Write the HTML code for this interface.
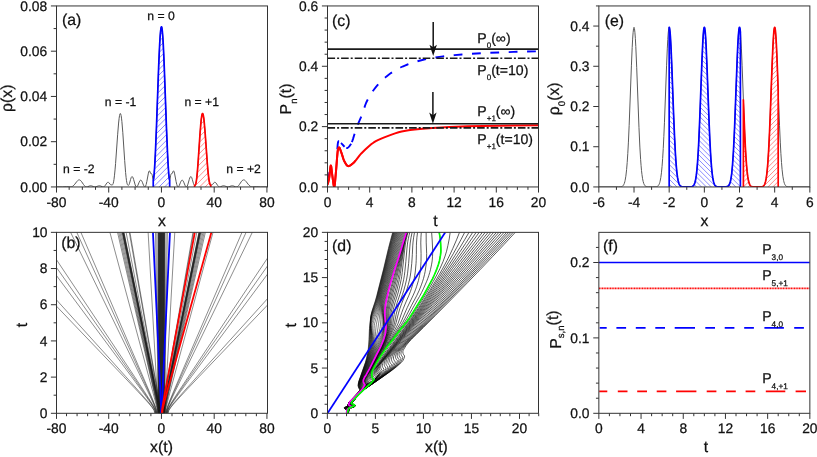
<!DOCTYPE html>
<html><head><meta charset="utf-8"><title>figure</title>
<style>html,body{margin:0;padding:0;background:#fff}svg{display:block}text{text-rendering:geometricPrecision}</style></head>
<body>
<svg width="817" height="457" viewBox="0 0 817 457" font-family='"Liberation Sans", sans-serif' fill="#111">
<style>text{stroke:#111;stroke-width:0.25px}</style>
<rect width="817" height="457" fill="#fff"/>
<g opacity="0.999">
<defs>
<clipPath id="ca"><rect x="56.5" y="5.95" width="211" height="181"/></clipPath>
<clipPath id="cb"><rect x="56.5" y="232.35" width="211" height="180.95"/></clipPath>
<clipPath id="cc"><rect x="327.5" y="5.95" width="211" height="181"/></clipPath>
<clipPath id="cd"><rect x="327.5" y="232.35" width="211" height="180.95"/></clipPath>
<clipPath id="ce"><rect x="598.85" y="5.95" width="211" height="181"/></clipPath>
<clipPath id="cf"><rect x="598.85" y="232.35" width="211" height="180.95"/></clipPath>
</defs>
<g clip-path="url(#ca)">
<path d="M55.97,186.92L62.3,186.95L66.65,186.71L70.21,186.95L71,186.89L71.66,186.73L72.32,186.46L72.85,186.14L73.9,185.23L74.83,184.15L76.8,181.54L77.6,180.67L78.39,180.09L78.78,179.93L79.18,179.87L79.57,179.92L79.97,180.07L80.76,180.66L81.68,181.77L83.53,184.54L84.45,185.72L84.98,186.24L85.51,186.62L85.9,186.81L86.43,186.94L86.83,186.95L87.35,186.85L89.59,185.92L90.12,185.79L90.65,185.74L91.18,185.78L91.7,185.9L93.81,186.74L94.74,186.94L95.26,186.94L95.92,186.83L98.3,185.92L98.82,185.79L99.35,185.74L99.88,185.79L100.41,185.92L102.65,186.86L103.17,186.95L103.57,186.92L104.1,186.7L104.63,186.25L105.28,185.41L106.87,183.02L107.39,182.47L107.92,182.22L108.32,182.25L108.71,182.5L109.11,182.92L110.16,184.32L110.69,184.72L111.22,184.88L112.14,184.95L112.4,184.89L112.67,184.68L112.93,184.23L113.2,183.51L113.59,181.83L113.99,179.43L114.51,175.2L115.04,169.88L115.57,163.62L117.68,134.2L118.6,123.02L119.13,118.25L119.52,115.67L119.92,114.07L120.18,113.57L120.32,113.5L120.45,113.55L120.71,114L121.11,115.55L121.5,118.12L121.9,121.62L122.82,132.76L124.67,160.35L125.59,172.37L126.12,177.68L126.51,180.73L126.91,182.9L127.17,183.9L127.44,184.58L127.83,185.16L128.23,185.38L128.49,185.34L128.89,184.9L129.15,184.37L129.55,183.25L130.6,179.38L131.13,177.75L131.39,177.16L131.65,176.75L131.92,176.53L132.18,176.52L132.58,176.86L133.11,177.91L133.63,179.5L135.21,184.97L135.74,186.21L136.14,186.76L136.4,186.93L136.66,186.93L136.93,186.8L137.32,186.36L137.98,185.11L139.17,182.2L139.7,181.1L140.22,180.37L140.49,180.17L140.75,180.1L141.02,180.17L141.28,180.36L141.81,181.11L142.33,182.23L143.52,185.23L144.05,186.28L144.31,186.64L144.58,186.87L144.84,186.95L145.1,186.85L145.37,186.56L145.63,186.07L146.16,184.49L146.82,181.55L148.4,173.13L148.93,171.35L149.19,170.91L149.32,170.82L149.45,170.83L149.72,171.1L150.51,173.13L150.77,173.59L151.04,173.71L151.43,173.62L151.56,173.7L152.09,174.66L152.36,175.81L152.88,179.22L153.15,180.11L153.28,180.16L153.41,179.92L153.67,178.64L154.2,173.42L154.73,165.62L155.39,153.05L156.44,127.64L158.68,65.94L159.61,45.24L160.13,36.41L160.53,31.55L160.79,29.22L161.06,27.65L161.32,26.86L161.45,26.76L161.58,26.86L161.85,27.65L162.11,29.22L162.38,31.55L162.77,36.41L163.3,45.24L164.22,65.94L166.46,127.64L167.52,153.05L168.18,165.62L168.7,173.42L169.23,178.64L169.5,179.92L169.63,180.16L169.76,180.11L170.02,179.22L170.55,175.81L170.81,174.66L171.34,173.7L171.47,173.62L171.87,173.71L172.13,173.59L172.4,173.13L173.19,171.1L173.45,170.83L173.58,170.82L173.71,170.91L173.98,171.35L174.51,173.13L176.09,181.55L176.75,184.49L177.27,186.07L177.54,186.56L177.8,186.85L178.07,186.95L178.33,186.87L178.59,186.64L178.86,186.28L179.38,185.23L180.57,182.23L181.1,181.11L181.63,180.36L181.89,180.17L182.15,180.1L182.42,180.17L182.68,180.37L183.21,181.1L183.74,182.2L184.92,185.11L185.58,186.36L185.98,186.8L186.24,186.93L186.5,186.93L186.77,186.76L187.16,186.21L187.69,184.97L189.27,179.5L189.8,177.91L190.33,176.86L190.72,176.52L190.99,176.53L191.25,176.75L191.51,177.16L191.78,177.75L192.31,179.38L193.36,183.25L193.76,184.37L194.02,184.9L194.42,185.34L194.68,185.38L195.07,185.16L195.47,184.58L195.73,183.9L196,182.9L196.39,180.73L196.79,177.68L197.32,172.37L198.24,160.35L200.08,132.76L201.01,121.62L201.4,118.12L201.8,115.55L202.19,114L202.46,113.55L202.59,113.5L202.72,113.57L202.99,114.07L203.38,115.67L203.78,118.25L204.3,123.02L205.23,134.2L207.34,163.62L207.86,169.88L208.39,175.2L208.92,179.43L209.31,181.83L209.71,183.51L209.97,184.23L210.24,184.68L210.5,184.89L210.76,184.95L211.69,184.88L212.22,184.72L212.74,184.32L213.8,182.92L214.19,182.5L214.59,182.25L214.98,182.22L215.51,182.47L216.04,183.02L217.62,185.41L218.28,186.25L218.81,186.7L219.34,186.92L219.73,186.95L220.26,186.86L222.5,185.92L223.03,185.79L223.55,185.74L224.08,185.79L224.61,185.92L226.98,186.83L227.64,186.94L228.17,186.94L229.09,186.74L231.2,185.9L231.73,185.78L232.26,185.74L232.78,185.79L233.31,185.92L235.55,186.85L236.08,186.95L236.48,186.94L237,186.81L237.4,186.62L237.93,186.24L238.45,185.72L239.38,184.54L241.22,181.77L242.15,180.66L242.94,180.07L243.33,179.92L243.73,179.87L244.12,179.93L244.52,180.09L245.31,180.67L246.1,181.54L248.08,184.15L249,185.23L250.06,186.14L250.58,186.46L251.24,186.73L251.9,186.89L252.69,186.95L256.25,186.71L260.6,186.95L266.93,186.92" fill="none" stroke="#5a5a5a" stroke-width="1"/>
<clipPath id="rg1"><path d="M153.24,186.95L153.24,180.17L153.35,180.07L153.46,179.78L153.68,178.63L154.17,173.81L154.77,164.84L155.38,153.23L156.42,128.14L158.62,67.51L159.17,54.28L159.67,44.12L160.11,36.82L160.55,31.39L160.99,28L161.21,27.11L161.43,26.77L161.54,26.8L161.65,26.98L161.87,27.73L162.3,30.85L162.74,36.03L163.24,44.12L163.73,54.28L164.28,67.51L166.48,128.14L167.53,153.23L168.13,164.84L168.74,173.81L169.23,178.63L169.45,179.78L169.56,180.07L169.67,180.17L169.67,186.95Z"/></clipPath>
<path clip-path="url(#rg1)" d="M-15.55,187.95L146.64,25.77M-9.95,187.95L152.24,25.77M-4.35,187.95L157.84,25.77M1.25,187.95L163.44,25.77M6.85,187.95L169.04,25.77M12.45,187.95L174.64,25.77M18.05,187.95L180.24,25.77M23.65,187.95L185.84,25.77M29.25,187.95L191.44,25.77M34.85,187.95L197.04,25.77M40.45,187.95L202.64,25.77M46.05,187.95L208.24,25.77M51.65,187.95L213.84,25.77M57.25,187.95L219.44,25.77M62.85,187.95L225.04,25.77M68.45,187.95L230.64,25.77M74.05,187.95L236.24,25.77M79.65,187.95L241.84,25.77M85.25,187.95L247.44,25.77M90.85,187.95L253.04,25.77M96.45,187.95L258.64,25.77M102.05,187.95L264.24,25.77M107.65,187.95L269.84,25.77M113.25,187.95L275.44,25.77M118.85,187.95L281.04,25.77M124.45,187.95L286.64,25.77M130.05,187.95L292.24,25.77M135.65,187.95L297.84,25.77M141.25,187.95L303.44,25.77M146.85,187.95L309.04,25.77M152.45,187.95L314.64,25.77M158.05,187.95L320.24,25.77M163.65,187.95L325.84,25.77M169.25,187.95L331.44,25.77M174.85,187.95L337.04,25.77" fill="none" stroke="#0000ff" stroke-width="0.6" stroke-opacity="0.78"/>
<path d="M153.24,186.95L153.24,180.17L153.35,180.07L153.46,179.78L153.68,178.63L154.17,173.81L154.77,164.84L155.38,153.23L156.42,128.14L158.62,67.51L159.17,54.28L159.67,44.12L160.11,36.82L160.55,31.39L160.99,28L161.21,27.11L161.43,26.77L161.54,26.8L161.65,26.98L161.87,27.73L162.3,30.85L162.74,36.03L163.24,44.12L163.73,54.28L164.28,67.51L166.48,128.14L167.53,153.23L168.13,164.84L168.74,173.81L169.23,178.63L169.45,179.78L169.56,180.07L169.67,180.17L169.67,186.95" fill="none" stroke="#0000ff" stroke-width="1.7" stroke-linejoin="round"/>
<clipPath id="rg2"><path d="M194.6,186.95L194.6,185.39L194.98,185.24L195.31,184.88L195.58,184.34L195.85,183.51L196.34,181.1L196.82,177.38L197.36,171.82L197.91,165.01L199.91,135.23L200.78,124.07L201.26,119.26L201.7,116.12L202.13,114.18L202.35,113.68L202.56,113.5L202.78,113.64L203,114.1L203.43,115.93L203.86,118.92L204.35,123.5L205.22,134.05L207.33,163.51L207.92,170.53L208.52,176.33L209.06,180.37L209.6,183.12L209.87,183.99L210.14,184.55L210.41,184.84L210.79,184.95L210.79,186.95Z"/></clipPath>
<path clip-path="url(#rg2)" d="M114.55,187.95L190,112.5M120.15,187.95L195.6,112.5M125.75,187.95L201.2,112.5M131.35,187.95L206.8,112.5M136.95,187.95L212.4,112.5M142.55,187.95L218,112.5M148.15,187.95L223.6,112.5M153.75,187.95L229.2,112.5M159.35,187.95L234.8,112.5M164.95,187.95L240.4,112.5M170.55,187.95L246,112.5M176.15,187.95L251.6,112.5M181.75,187.95L257.2,112.5M187.35,187.95L262.8,112.5M192.95,187.95L268.4,112.5M198.55,187.95L274,112.5M204.15,187.95L279.6,112.5M209.75,187.95L285.2,112.5M215.35,187.95L290.8,112.5" fill="none" stroke="#ff0000" stroke-width="0.6" stroke-opacity="0.78"/>
<path d="M194.6,186.95L194.6,185.39L194.98,185.24L195.31,184.88L195.58,184.34L195.85,183.51L196.34,181.1L196.82,177.38L197.36,171.82L197.91,165.01L199.91,135.23L200.78,124.07L201.26,119.26L201.7,116.12L202.13,114.18L202.35,113.68L202.56,113.5L202.78,113.64L203,114.1L203.43,115.93L203.86,118.92L204.35,123.5L205.22,134.05L207.33,163.51L207.92,170.53L208.52,176.33L209.06,180.37L209.6,183.12L209.87,183.99L210.14,184.55L210.41,184.84L210.79,184.95L210.79,186.95" fill="none" stroke="#ff0000" stroke-width="1.7" stroke-linejoin="round"/>
</g>
<text x="147.3" y="20" font-size="12.2">n = 0</text>
<text x="104.8" y="106" font-size="12.2">n = -1</text>
<text x="184.4" y="106" font-size="12.2">n = +1</text>
<text x="63" y="172.9" font-size="12.2">n = -2</text>
<text x="226.3" y="172.9" font-size="12.2">n = +2</text>
<g clip-path="url(#cc)">
<path d="M351.55,142.89L352.26,141.15L352.96,139.1L355.3,131.4L356.23,128.58L356.94,126.74L357.64,125.02L360.91,117.44L362.32,113.94L363.02,111.95L364.89,106.12L365.36,104.77L365.83,103.54L366.29,102.47L367,101.01L368.4,98.29L369.8,95.81L371.21,93.53L372.61,91.44L374.02,89.51L375.65,87.41L377.29,85.46L378.93,83.61L380.8,81.62L382.67,79.77L384.54,78.04L386.18,76.64L388.05,75.15L389.93,73.77L392.03,72.33L394.14,70.99L396.24,69.73L398.35,68.56L400.45,67.49L402.56,66.51L404.9,65.52L407.47,64.51L410.28,63.5L412.86,62.64L415.66,61.78L418.47,60.98L421.28,60.25L424.09,59.58L426.89,58.96L429.47,58.44L432.04,57.97L435.32,57.46L439.29,56.89L443.04,56.39L447.02,55.9L454.5,55.1L461.99,54.45L471.58,53.77L481.41,53.21L498.72,52.46L513.7,51.91L526.57,51.55L538.5,51.35" fill="none" stroke="#0000ff" stroke-width="1.9" stroke-dasharray="8.8 9.57" stroke-dashoffset="17.5"/>
<path d="M327.71,177.54L328.26,176.32L328.8,174.77L329.02,173.89L329.29,172.47" fill="none" stroke="#0000ff" stroke-width="1.9"/>
<path d="M337.31,149.24L337.66,144.92L337.84,143.4L337.95,142.69L338.18,141.92L338.48,141.27L338.65,141.1L338.82,141.11L339,141.16" fill="none" stroke="#0000ff" stroke-width="1.9"/>
<path d="M341,143.02L341.62,143.57L342.12,144.07L343.85,145.99L344.59,146.75" fill="none" stroke="#0000ff" stroke-width="1.9"/>
<path d="M346.28,147.92L346.78,148.03L347.12,148.02L347.28,147.98L347.79,147.76L348.29,147.39L348.79,146.9L349.46,146.11L350.8,144.29L351.13,143.74" fill="none" stroke="#0000ff" stroke-width="1.9"/>
<path d="M327.5,184.54L327.82,183.71L328.24,182.26L328.66,180.49L329.09,178.47L329.41,176.31L330.15,169.34L330.36,167.61L330.57,166.31L330.68,165.88L330.78,165.61L330.89,165.53L330.99,165.67L331.1,166.01L331.31,167.16L331.52,168.79L332.05,173.46L332.58,177.28L333.22,182.3L333.54,184.49L333.75,185.66L333.96,186.49L334.07,186.76L334.17,186.91L334.28,186.94L334.38,186.78L334.49,186.42L334.7,185.16L334.91,183.35L335.13,181.13L335.76,173.73L336.18,169.24L337.14,156.9L337.56,152.27L337.77,150.57L337.98,149.45L338.2,148.85L338.51,148.1L338.73,147.73L338.94,147.49L339.04,147.44L339.15,147.44L339.26,147.48L339.47,147.68L339.68,148.02L340,148.74L340.95,151.54L341.8,153.89L343.39,158.9L343.81,160.06L344.13,160.81L345.29,162.95L346.03,164.2L346.67,165.1L347.2,165.67L347.52,165.92L347.73,166.03L347.94,166.11L348.26,166.13L348.58,166.1L349,166L349.42,165.84L349.85,165.63L350.38,165.3L350.91,164.93L353.13,163.17L353.98,162.4L354.93,161.36" fill="none" stroke="#ff0000" stroke-width="2.0" stroke-linejoin="round" stroke-linecap="round"/>
<path d="M327.5,184.54L328.2,182.4L329.14,178.18L329.38,176.54L330.32,167.94L330.55,166.42L330.79,165.61L331.02,165.73L331.26,166.79L332.19,174.53L333.6,184.88L333.84,186.05L334.07,186.77L334.31,186.92L334.54,186.17L334.78,184.58L335.25,179.77L336.18,169.24L337.12,157.09L337.59,151.99L337.83,150.23L338.06,149.21L338.53,148.07L338.77,147.67L339,147.46L339.24,147.47L339.47,147.68L339.94,148.6L341.82,153.95L343.46,159.11L344.16,160.89L345.81,163.83L346.75,165.19L347.22,165.69L347.68,166.01L347.92,166.1L348.39,166.13L349.33,165.88L350.27,165.37L351.21,164.7L353.55,162.8L354.49,161.86L355.43,160.77L359.42,155.57L361.3,153.43L365.29,149.48L368.34,146.66L371.16,144.31L373.74,142.46L375.85,141.2L378.43,139.86L381.25,138.57L384.3,137.32L390.87,134.87L395.1,133.38L398.62,132.29L401.67,131.53L405.66,130.77L410.12,130.06L414.81,129.44L419.97,128.9L425.84,128.39L432.41,127.92L441.33,127.38L449.55,126.96L467.62,126.3L483.11,125.91L514.56,125.48L538.5,125.35" fill="none" stroke="#ff0000" stroke-width="2.0" stroke-linejoin="round"/>
<line x1="327.5" x2="538.5" y1="49.09" y2="49.09" stroke="#1a1a1a" stroke-width="1.6"/>
<line x1="327.5" x2="538.5" y1="58.2" y2="58.2" stroke="#1a1a1a" stroke-width="1.6" stroke-dasharray="7.6 2 2 2"/>
<line x1="327.5" x2="538.5" y1="123.75" y2="123.75" stroke="#1a1a1a" stroke-width="1.6"/>
<line x1="327.5" x2="538.5" y1="127.88" y2="127.88" stroke="#1a1a1a" stroke-width="1.6" stroke-dasharray="7.6 2 2 2"/>
</g>
<line x1="433.2" x2="433.2" y1="21.9" y2="49.9" stroke="#111" stroke-width="1.5"/>
<path d="M433.2,55.9 l-3.7,-11.2 l3.7,2.6 l3.7,-2.6 z" fill="#111"/>
<line x1="432.9" x2="432.9" y1="91.9" y2="117.8" stroke="#111" stroke-width="1.5"/>
<path d="M432.9,123.8 l-3.7,-11.2 l3.7,2.6 l3.7,-2.6 z" fill="#111"/>
<text x="477.3" y="42.9" font-size="14.1">P<tspan font-size="8.0" dy="5.2">0</tspan><tspan dy="-5.2">&#8203;</tspan>(&#8734;)</text>
<text x="477.3" y="74.9" font-size="14.1">P<tspan font-size="8.0" dy="5.2">0</tspan><tspan dy="-5.2">&#8203;</tspan>(t=10)</text>
<text x="477.3" y="115.6" font-size="14.1">P<tspan font-size="8.0" dy="5.2">+1</tspan><tspan dy="-5.2">&#8203;</tspan>(&#8734;)</text>
<text x="477.3" y="143.6" font-size="14.1">P<tspan font-size="8.0" dy="5.2">+1</tspan><tspan dy="-5.2">&#8203;</tspan>(t=10)</text>
<g clip-path="url(#ce)">
<path d="M598.85,186.95L618.46,186.94L620.27,186.87L621.32,186.71L622.08,186.45L622.68,186.07L623.13,185.62L623.58,184.99L624.04,184.1L624.34,183.33L624.79,181.83L625.09,180.57L625.85,176.2L626.6,169.66L627.2,162.49L627.81,153.35L628.41,142.12L629.17,125.29L631.43,65.18L632.18,47.59L632.63,39.14L633.09,32.76L633.54,28.73L633.84,27.47L633.99,27.27L634.14,27.37L634.44,28.44L634.9,32.19L635.35,38.33L635.8,46.56L636.71,67.76L638.97,127.7L639.87,147.05L640.63,159.67L641.08,165.71L641.53,170.68L641.99,174.69L642.59,178.76L643.19,181.64L643.79,183.61L644.4,184.9L644.7,185.37L645.15,185.89L645.76,186.34L646.51,186.66L647.41,186.84L648.47,186.92L652.54,186.95L655.11,186.9L656.46,186.72L657.37,186.38L657.97,185.96L658.42,185.47L658.88,184.77L659.33,183.8L659.78,182.47L660.08,181.33L660.84,177.39L661.44,172.8L662.04,166.61L662.65,158.55L663.25,148.46L663.85,136.3L664.46,122.22L666.57,65.82L667.32,48.11L667.78,39.56L668.23,33.05L668.68,28.89L668.98,27.53L669.13,27.28L669.28,27.33L669.43,27.68L669.59,28.31L670.04,31.91L670.49,37.93L670.94,46.06L671.85,67.11L673.51,111.96L674.26,130.65L675.02,146.58L675.77,159.3L676.52,168.87L676.98,173.24L677.43,176.73L677.88,179.45L678.33,181.54L678.94,183.54L679.54,184.86L680.14,185.71L680.75,186.23L681.5,186.6L682.56,186.83L684.67,186.94L689.8,186.92L691.3,186.79L692.36,186.47L692.96,186.11L693.57,185.5L694.02,184.82L694.47,183.86L694.92,182.55L695.23,181.44L695.98,177.55L696.58,173.02L697.19,166.9L697.79,158.93L698.39,148.92L699,136.84L699.6,122.84L701.71,66.46L702.46,48.64L702.92,39.99L703.37,33.35L703.82,29.06L704.12,27.6L704.27,27.3L704.43,27.3L704.58,27.6L704.73,28.18L705.18,31.65L705.63,37.53L706.08,45.55L706.99,66.46L709.25,126.5L709.86,140.05L710.46,151.62L710.91,158.93L711.51,166.9L712.12,173.02L712.72,177.55L713.47,181.44L713.93,183.04L714.38,184.22L714.83,185.07L715.44,185.84L716.04,186.31L716.64,186.59L717.85,186.85L719.81,186.94L724.79,186.93L725.84,186.87L726.75,186.73L727.35,186.55L727.8,186.33L728.56,185.71L729.16,184.86L729.76,183.54L730.22,182.12L730.67,180.21L731.12,177.71L731.57,174.49L732.33,167.19L733.08,157.02L733.84,143.64L734.59,127.1L736.85,67.11L737.76,46.06L738.21,37.93L738.66,31.91L739.11,28.31L739.27,27.68L739.42,27.33L739.57,27.28L739.72,27.53L740.02,28.89L740.47,33.05L740.92,39.56L741.38,48.11L742.13,65.82L744.24,122.22L744.85,136.3L745.45,148.46L746.05,158.55L746.66,166.61L747.26,172.8L747.86,177.39L748.62,181.33L748.92,182.47L749.37,183.8L749.82,184.77L750.28,185.47L750.73,185.96L751.33,186.38L751.78,186.59L752.39,186.75L753.74,186.91L757.82,186.95L760.68,186.89L761.74,186.77L762.64,186.5L763.25,186.14L763.85,185.56L764.3,184.9L764.6,184.32L765.21,182.72L765.81,180.33L766.26,177.87L766.71,174.69L767.17,170.68L767.62,165.71L768.07,159.67L768.83,147.05L769.73,127.7L771.99,67.76L772.9,46.56L773.35,38.33L773.8,32.19L774.26,28.44L774.56,27.37L774.71,27.27L774.86,27.47L775.16,28.73L775.61,32.76L776.07,39.14L776.52,47.59L777.27,65.18L779.53,125.29L780.29,142.12L780.89,153.35L781.5,162.49L782.1,169.66L782.85,176.2L783.61,180.57L783.91,181.83L784.36,183.33L784.66,184.1L785.12,184.99L785.57,185.62L786.02,186.07L786.62,186.45L787.38,186.71L788.43,186.87L790.24,186.94L809.85,186.95" fill="none" stroke="#5a5a5a" stroke-width="1"/>
<clipPath id="rg3"><path d="M669.18,186.95L669.18,27.27L669.29,27.33L669.39,27.54L669.59,28.34L670,31.5L670.41,36.63L670.92,45.5L671.73,64.11L673.56,113.45L674.48,135.61L675.4,153.44L675.91,161.28L676.42,167.69L676.93,172.8L677.54,177.45L678.15,180.76L678.86,183.33L679.17,184.11L679.57,184.92L679.98,185.52L680.49,186.04L681,186.39L681.61,186.64L682.33,186.8L683.14,186.89L687.83,186.95L690.68,186.87L691.49,186.75L692.11,186.58L692.62,186.34L693.12,185.97L693.63,185.41L694.14,184.58L694.55,183.66L694.96,182.44L695.67,179.35L696.28,175.45L696.89,170.08L697.51,162.93L698.12,153.76L698.73,142.46L699.85,116.57L701.89,62.02L702.8,41.99L703.21,35.43L703.62,30.69L704.03,27.95L704.23,27.36L704.33,27.27L704.43,27.31L704.53,27.49L704.74,28.24L704.94,29.52L705.25,32.39L705.66,37.9L706.16,47.18L706.98,66.22L709.12,123.29L709.83,139.58L710.44,151.37L710.95,159.56L711.56,167.48L712.18,173.52L712.79,177.97L713.5,181.54L713.91,182.98L714.42,184.3L714.93,185.22L715.44,185.84L716.05,186.32L716.76,186.63L718.08,186.87L720.22,186.94L724.91,186.92L726.03,186.85L726.85,186.71L727.76,186.35L728.17,186.07L728.58,185.68L729.19,184.81L729.8,183.44L730.31,181.76L730.82,179.45L731.33,176.33L731.74,173.14L732.55,164.49L733.37,152.35L733.98,140.76L734.69,124.68L737.34,55.12L737.85,44.25L738.36,35.7L738.87,29.96L739.17,28.03L739.38,27.39L739.48,27.28L739.58,27.29L739.68,27.45L739.89,28.15L740.09,29.38L740.4,32.18L740.4,186.95Z"/></clipPath>
<path clip-path="url(#rg3)" d="M501.6,26.27L663.28,187.95M506.5,26.27L668.18,187.95M511.4,26.27L673.08,187.95M516.3,26.27L677.98,187.95M521.2,26.27L682.88,187.95M526.1,26.27L687.78,187.95M531,26.27L692.68,187.95M535.9,26.27L697.58,187.95M540.8,26.27L702.48,187.95M545.7,26.27L707.38,187.95M550.6,26.27L712.28,187.95M555.5,26.27L717.18,187.95M560.4,26.27L722.08,187.95M565.3,26.27L726.98,187.95M570.2,26.27L731.88,187.95M575.1,26.27L736.78,187.95M580,26.27L741.68,187.95M584.9,26.27L746.58,187.95M589.8,26.27L751.48,187.95M594.7,26.27L756.38,187.95M599.6,26.27L761.28,187.95M604.5,26.27L766.18,187.95M609.4,26.27L771.08,187.95M614.3,26.27L775.98,187.95M619.2,26.27L780.88,187.95M624.1,26.27L785.78,187.95M629,26.27L790.68,187.95M633.9,26.27L795.58,187.95M638.8,26.27L800.48,187.95M643.7,26.27L805.38,187.95M648.6,26.27L810.28,187.95M653.5,26.27L815.18,187.95M658.4,26.27L820.08,187.95M663.3,26.27L824.98,187.95M668.2,26.27L829.88,187.95M673.1,26.27L834.78,187.95M678,26.27L839.68,187.95M682.9,26.27L844.58,187.95M687.8,26.27L849.48,187.95M692.7,26.27L854.38,187.95M697.6,26.27L859.28,187.95M702.5,26.27L864.18,187.95M707.4,26.27L869.08,187.95M712.3,26.27L873.98,187.95M717.2,26.27L878.88,187.95M722.1,26.27L883.78,187.95M727,26.27L888.68,187.95M731.9,26.27L893.58,187.95M736.8,26.27L898.48,187.95M741.7,26.27L903.38,187.95" fill="none" stroke="#0000ff" stroke-width="0.6" stroke-opacity="0.78"/>
<path d="M669.18,186.95L669.18,27.27L669.29,27.33L669.39,27.54L669.59,28.34L670,31.5L670.41,36.63L670.92,45.5L671.73,64.11L673.56,113.45L674.48,135.61L675.4,153.44L675.91,161.28L676.42,167.69L676.93,172.8L677.54,177.45L678.15,180.76L678.86,183.33L679.17,184.11L679.57,184.92L679.98,185.52L680.49,186.04L681,186.39L681.61,186.64L682.33,186.8L683.14,186.89L687.83,186.95L690.68,186.87L691.49,186.75L692.11,186.58L692.62,186.34L693.12,185.97L693.63,185.41L694.14,184.58L694.55,183.66L694.96,182.44L695.67,179.35L696.28,175.45L696.89,170.08L697.51,162.93L698.12,153.76L698.73,142.46L699.85,116.57L701.89,62.02L702.8,41.99L703.21,35.43L703.62,30.69L704.03,27.95L704.23,27.36L704.33,27.27L704.43,27.31L704.53,27.49L704.74,28.24L704.94,29.52L705.25,32.39L705.66,37.9L706.16,47.18L706.98,66.22L709.12,123.29L709.83,139.58L710.44,151.37L710.95,159.56L711.56,167.48L712.18,173.52L712.79,177.97L713.5,181.54L713.91,182.98L714.42,184.3L714.93,185.22L715.44,185.84L716.05,186.32L716.76,186.63L718.08,186.87L720.22,186.94L724.91,186.92L726.03,186.85L726.85,186.71L727.76,186.35L728.17,186.07L728.58,185.68L729.19,184.81L729.8,183.44L730.31,181.76L730.82,179.45L731.33,176.33L731.74,173.14L732.55,164.49L733.37,152.35L733.98,140.76L734.69,124.68L737.34,55.12L737.85,44.25L738.36,35.7L738.87,29.96L739.17,28.03L739.38,27.39L739.48,27.28L739.58,27.29L739.68,27.45L739.89,28.15L740.09,29.38L740.4,32.18L740.4,186.95" fill="none" stroke="#0000ff" stroke-width="1.7" stroke-linejoin="round"/>
<clipPath id="rg4"><path d="M743.38,186.95L743.38,99.75L744.69,132.92L745.3,145.74L745.92,156.45L746.53,165.05L747.14,171.69L747.75,176.63L748.45,180.59L749.06,182.92L749.75,184.64L750.1,185.23L750.54,185.78L751.06,186.22L751.59,186.51L752.11,186.69L752.81,186.82L754.82,186.94L760.14,186.92L761.27,186.84L762.14,186.67L762.76,186.44L763.28,186.12L763.72,185.72L764.15,185.15L764.59,184.36L764.94,183.52L765.55,181.48L766.16,178.49L766.77,174.26L767.29,169.4L767.82,163.22L768.69,149.59L769.56,131.66L770.35,112.29L772.09,65.23L772.79,48.81L773.49,36.23L773.84,31.82L774.19,28.86L774.45,27.62L774.62,27.29L774.71,27.27L774.8,27.35L775.06,28.18L775.5,31.47L775.93,37.01L776.37,44.57L776.89,55.83L778.2,90.1L778.2,186.95Z"/></clipPath>
<path clip-path="url(#rg4)" d="M575.81,187.95L737.49,26.27M580.71,187.95L742.38,26.27M585.61,187.95L747.28,26.27M590.51,187.95L752.18,26.27M595.41,187.95L757.08,26.27M600.31,187.95L761.98,26.27M605.21,187.95L766.88,26.27M610.11,187.95L771.78,26.27M615.01,187.95L776.68,26.27M619.91,187.95L781.58,26.27M624.81,187.95L786.48,26.27M629.71,187.95L791.38,26.27M634.61,187.95L796.28,26.27M639.51,187.95L801.18,26.27M644.41,187.95L806.08,26.27M649.31,187.95L810.98,26.27M654.21,187.95L815.88,26.27M659.11,187.95L820.78,26.27M664.01,187.95L825.68,26.27M668.91,187.95L830.58,26.27M673.81,187.95L835.48,26.27M678.71,187.95L840.38,26.27M683.61,187.95L845.28,26.27M688.51,187.95L850.18,26.27M693.41,187.95L855.08,26.27M698.31,187.95L859.98,26.27M703.21,187.95L864.88,26.27M708.11,187.95L869.78,26.27M713.01,187.95L874.68,26.27M717.91,187.95L879.58,26.27M722.81,187.95L884.48,26.27M727.71,187.95L889.38,26.27M732.61,187.95L894.28,26.27M737.51,187.95L899.18,26.27M742.41,187.95L904.08,26.27M747.31,187.95L908.98,26.27M752.21,187.95L913.88,26.27M757.11,187.95L918.78,26.27M762.01,187.95L923.68,26.27M766.91,187.95L928.58,26.27M771.81,187.95L933.48,26.27M776.71,187.95L938.38,26.27M781.61,187.95L943.28,26.27" fill="none" stroke="#ff0000" stroke-width="0.6" stroke-opacity="0.78"/>
<path d="M743.38,186.95L743.38,99.75L744.69,132.92L745.3,145.74L745.92,156.45L746.53,165.05L747.14,171.69L747.75,176.63L748.45,180.59L749.06,182.92L749.75,184.64L750.1,185.23L750.54,185.78L751.06,186.22L751.59,186.51L752.11,186.69L752.81,186.82L754.82,186.94L760.14,186.92L761.27,186.84L762.14,186.67L762.76,186.44L763.28,186.12L763.72,185.72L764.15,185.15L764.59,184.36L764.94,183.52L765.55,181.48L766.16,178.49L766.77,174.26L767.29,169.4L767.82,163.22L768.69,149.59L769.56,131.66L770.35,112.29L772.09,65.23L772.79,48.81L773.49,36.23L773.84,31.82L774.19,28.86L774.45,27.62L774.62,27.29L774.71,27.27L774.8,27.35L775.06,28.18L775.5,31.47L775.93,37.01L776.37,44.57L776.89,55.83L778.2,90.1L778.2,186.95" fill="none" stroke="#ff0000" stroke-width="1.7" stroke-linejoin="round"/>
</g>
<g clip-path="url(#cf)">
<line x1="598.85" x2="809.85" y1="262.51" y2="262.51" stroke="#0000ff" stroke-width="1.7"/>
<line x1="598.85" x2="809.85" y1="288.37" y2="288.37" stroke="#ff0000" stroke-width="1.7" stroke-dasharray="1.1 0.5"/>
<path d="M599.7,327.95 H606.7 M616.4,327.95 H626.1 M635.8,327.95 H645.6 M655.3,327.95 H665 M674.7,327.95 H695 M705.3,327.95 H715 M724.7,327.95 H734.4 M744.2,327.95 H753.9 M764.4,327.95 H783.9 M794.2,327.95 H803.9" stroke="#0000ff" stroke-width="1.8" fill="none"/>
<path d="M599.2,391.36 H607.3 M617.8,391.36 H627.5 M637.2,391.36 H647 M656.7,391.36 H666.4 M676.1,391.36 H696.4 M706.7,391.36 H716.4 M726.1,391.36 H735.8 M745.6,391.36 H755.3 M765.8,391.36 H785.3 M795.6,391.36 H806" stroke="#ff0000" stroke-width="1.8" fill="none"/>
</g>
<text x="762.2" y="253.7" font-size="14.1">P<tspan font-size="8.2" dy="6.0">3,0</tspan><tspan dy="-6.0">&#8203;</tspan></text>
<text x="762.2" y="279.7" font-size="14.1">P<tspan font-size="8.2" dy="6.0">5,+1</tspan><tspan dy="-6.0">&#8203;</tspan></text>
<text x="762.2" y="320.7" font-size="14.1">P<tspan font-size="8.2" dy="6.0">4,0</tspan><tspan dy="-6.0">&#8203;</tspan></text>
<text x="762.2" y="383" font-size="14.1">P<tspan font-size="8.2" dy="6.0">4,+1</tspan><tspan dy="-6.0">&#8203;</tspan></text>
<g clip-path="url(#cb)">
<path d="M158.55,413.3L158.16,232.35 M158.76,413.3L158.39,232.35 M158.97,413.3L158.63,232.35 M159.17,413.3L158.86,232.35 M159.38,413.3L159.1,232.35 M159.59,413.3L159.33,232.35 M159.8,413.3L159.57,232.35 M160,413.3L159.8,232.35 M160.21,413.3L160.04,232.35 M160.42,413.3L160.28,232.35 M160.62,413.3L160.51,232.35 M160.83,413.3L160.75,232.35 M161.04,413.3L160.98,232.35 M161.25,413.3L161.22,232.35 M161.45,413.3L161.45,232.35 M161.66,413.3L161.69,232.35 M161.87,413.3L161.92,232.35 M162.07,413.3L162.16,232.35 M162.28,413.3L162.39,232.35 M162.49,413.3L162.63,232.35 M162.7,413.3L162.87,232.35 M162.9,413.3L163.1,232.35 M163.11,413.3L163.34,232.35 M163.32,413.3L163.57,232.35 M163.52,413.3L163.81,232.35 M163.73,413.3L164.04,232.35 M163.94,413.3L164.28,232.35 M164.15,413.3L164.51,232.35 M164.35,413.3L164.75,232.35 M164.49,413.3L166.07,232.35 M158.42,413.3L156.84,232.35 M164.62,413.3L164.89,391.83L167.39,232.35 M158.29,413.3L158.02,391.83L155.52,232.35 M164.88,413.3L165.05,407.17L165.86,391.83L174.77,232.35 M158.02,413.3L157.85,407.17L157.05,391.83L148.14,232.35 M162.24,413.3L162.41,410.23L162.78,407.17L163.73,401.03L165.28,391.83L192.97,232.35 M160.66,413.3L160.5,410.23L160.12,407.17L159.17,401.03L157.63,391.83L129.94,232.35 M162.51,413.3L162.67,410.23L163.05,407.17L164.02,401.03L165.58,391.83L193.62,232.35 M160.4,413.3L160.23,410.23L159.85,407.17L158.89,401.03L157.33,391.83L129.28,232.35 M162.77,413.3L162.95,410.23L163.37,407.17L164.42,401.03L166.13,391.83L196.79,232.35 M160.13,413.3L159.95,410.23L159.54,407.17L158.49,401.03L156.78,391.83L126.12,232.35 M162.9,413.3L163.1,410.23L163.54,407.17L164.65,401.03L166.46,391.83L174.53,351.96L198.9,232.35 M160,413.3L159.81,410.23L159.37,407.17L158.26,401.03L156.45,391.83L148.38,351.96L124.01,232.35 M163.04,413.3L163.23,410.23L163.67,407.17L164.78,401.03L166.6,391.83L174.69,351.96L199.13,232.35 M159.87,413.3L159.68,410.23L159.24,407.17L158.12,401.03L156.31,391.83L148.22,351.96L123.78,232.35 M163.17,413.3L163.36,410.23L163.8,407.17L164.92,401.03L166.74,391.83L174.85,351.96L199.36,232.35 M159.74,413.3L159.55,410.23L159.1,407.17L157.99,401.03L156.17,391.83L148.05,351.96L123.55,232.35 M163.3,413.3L163.49,410.23L163.94,407.17L165.06,401.03L166.88,391.83L175.02,351.96L199.59,232.35 M159.61,413.3L159.41,410.23L158.97,407.17L157.85,401.03L156.03,391.83L147.89,351.96L123.32,232.35 M163.43,413.3L163.62,410.23L164.07,407.17L165.19,401.03L167.02,391.83L175.18,351.96L199.82,232.35 M159.48,413.3L159.28,410.23L158.84,407.17L157.71,401.03L155.88,391.83L147.73,351.96L123.08,232.35 M163.56,413.3L163.76,410.23L164.2,407.17L165.33,401.03L167.16,391.83L175.34,351.96L200.05,232.35 M159.34,413.3L159.15,410.23L158.7,407.17L157.58,401.03L155.74,391.83L147.56,351.96L122.85,232.35 M163.69,413.3L163.89,410.23L164.34,407.17L165.47,401.03L167.31,391.83L175.51,351.96L200.28,232.35 M159.21,413.3L159.02,410.23L158.57,407.17L157.44,401.03L155.6,391.83L147.4,351.96L122.62,232.35 M163.83,413.3L164.02,410.23L164.47,407.17L165.6,401.03L167.45,391.83L175.67,351.96L200.51,232.35 M159.08,413.3L158.88,410.23L158.44,407.17L157.3,401.03L155.46,391.83L147.23,351.96L122.39,232.35 M163.96,413.3L164.15,410.23L164.6,407.17L165.74,401.03L167.59,391.83L175.84,351.96L200.74,232.35 M158.95,413.3L158.75,410.23L158.3,407.17L157.17,401.03L155.32,391.83L147.07,351.96L122.16,232.35 M164.22,413.3L164.42,410.23L164.88,407.17L166.04,401.03L167.93,391.83L176.35,351.96L201.8,232.35 M158.68,413.3L158.48,410.23L158.02,407.17L156.86,401.03L154.98,391.83L146.55,351.96L121.11,232.35 M164.49,413.3L164.69,410.23L165.16,407.17L166.35,401.03L168.28,391.83L176.92,351.96L202.99,232.35 M158.42,413.3L158.21,410.23L157.74,407.17L156.55,401.03L154.62,391.83L145.99,351.96L119.92,232.35 M164.75,413.3L164.96,410.23L165.44,407.17L166.66,401.03L168.64,391.83L177.48,351.96L204.17,232.35 M158.16,413.3L157.95,410.23L157.46,407.17L156.25,401.03L154.27,391.83L145.43,351.96L118.73,232.35 M165.01,413.3L165.23,410.23L165.72,407.17L166.97,401.03L168.99,391.83L178.04,351.96L205.36,232.35 M157.89,413.3L157.68,410.23L157.18,407.17L155.94,401.03L153.91,391.83L144.87,351.96L117.55,232.35 M165.41,413.3L165.66,410.23L166.24,407.17L167.71,401.03L170.11,391.83L180.78,351.96L213.01,232.35 M157.5,413.3L157.24,410.23L156.66,407.17L155.19,401.03L152.8,391.83L142.13,351.96L109.9,232.35 M165.94,413.3L166.34,410.23L167.27,407.17L169.62,401.03L173.44,391.83L190.5,351.96L242.01,232.35 M156.97,413.3L156.56,410.23L155.63,407.17L153.28,401.03L149.46,391.83L132.41,351.96L80.89,232.35 M166.2,413.3L166.63,410.23L167.6,407.17L168.79,404.1L170.07,401.03L174.08,391.83L192,351.96L246.1,232.35 M156.71,413.3L156.28,410.23L155.3,407.17L154.11,404.1L152.83,401.03L148.82,391.83L130.91,351.96L76.8,232.35 M166.46,413.3L166.92,410.23L167.97,407.17L169.25,404.1L170.62,401.03L174.93,391.83L194.18,351.96L252.3,232.35 M156.44,413.3L155.98,410.23L154.94,407.17L153.66,404.1L152.28,401.03L147.97,391.83L128.73,351.96L70.61,232.35 M166.73,413.3L167.36,410.23L168.8,407.17L170.56,404.1L172.44,401.03L178.37,391.83L188.49,376.5L204.82,351.96L284.71,232.35 M156.18,413.3L155.55,410.23L154.11,407.17L152.35,404.1L150.46,401.03L144.54,391.83L134.41,376.5L118.09,351.96L38.2,232.35 M166.99,413.3L167.65,410.23L169.17,407.17L171.02,404.1L173,401.03L179.24,391.83L189.89,376.5L207.06,351.96L291.1,232.35 M155.92,413.3L155.25,410.23L153.74,407.17L151.89,404.1L149.9,401.03L143.67,391.83L133.02,376.5L115.84,351.96L31.8,232.35 M167.25,413.3L167.95,410.23L169.56,407.17L171.52,404.1L173.62,401.03L180.21,391.83L191.48,376.5L209.65,351.96L298.56,232.35 M155.65,413.3L154.95,410.23L153.35,407.17L151.39,404.1L149.29,401.03L142.69,391.83L131.43,376.5L113.26,351.96L24.35,232.35 M167.78,413.3L168.63,410.23L170.59,407.17L172.97,404.1L175.52,401.03L183.54,391.83L197.24,376.5L219.35,351.96L327.49,232.35 M155.12,413.3L154.27,410.23L152.32,407.17L149.94,404.1L147.39,401.03L139.36,391.83L125.66,376.5L103.56,351.96L-4.59,232.35 M168.05,413.3L168.95,410.23L171.01,407.17L173.53,404.1L176.24,401.03L184.73,391.83L199.23,376.5L222.63,351.96L337.09,232.35 M154.86,413.3L153.96,410.23L151.89,407.17L149.37,404.1L146.67,401.03L138.18,391.83L123.68,376.5L100.28,351.96L-14.19,232.35" fill="none" stroke="#1a1a1a" stroke-width="0.5"/>
<path d="M161.19,413.3L161.04,407.17L160.38,391.83L152.95,232.35" fill="none" stroke="#0000ff" stroke-width="1.8"/>
<path d="M161.72,413.3L161.86,407.17L162.53,391.83L169.96,232.35" fill="none" stroke="#0000ff" stroke-width="1.8"/>
<path d="M161.85,413.3L162.02,410.23L162.43,407.17L163.45,401.03L165.1,391.83L194.81,232.35" fill="none" stroke="#ff0000" stroke-width="1.8"/>
<path d="M162.24,413.3L162.51,410.23L163.11,407.17L164.63,401.03L167.1,391.83L178.12,351.96L211.42,232.35" fill="none" stroke="#ff0000" stroke-width="1.8"/>
</g>
<g clip-path="url(#cd)">
<path d="M346.62,413.3L346.6,410.01L346.34,409.68L345.88,409.35L344.27,408.37L343.98,408.04L344.02,407.71L344.55,407.38L347.13,406.39L347.58,406.06L348.71,403.1L349.22,402.11L349.67,401.46L350.54,400.47L360.2,390.5L359.05,388.62L358.3,386.75L358.09,385.68L358.22,384.07L358.49,382.46L358.78,381.39L365.42,362.4L366.53,358.3L367.63,353.18L368.11,350.11L368.6,344.99L368.94,339.87L369.27,331.68L369.47,328.61L370.55,318.37L371.2,314.27L372.27,310.17L375.29,300.96L376.74,295.84L383.5,269.21L388.35,248.73L390.47,240.54L392.7,232.35 M346.62,413.3L346.61,410.01L346.36,409.68L345.92,409.35L344.4,408.37L344.14,408.04L344.19,407.71L344.72,407.38L347.23,406.39L347.65,406.06L348.06,404.75L348.58,403.43L349.05,402.44L349.68,401.46L350.55,400.47L360.32,390.35L359.17,388.48L358.43,386.6L358.23,385.53L358.36,383.93L358.65,382.32L358.96,381.25L365.67,362.28L366.8,358.18L367.94,353.07L368.44,350L368.97,344.88L369.33,339.77L369.78,328.52L370.54,319.31L370.78,317.26L371.12,315.22L371.59,313.17L372.18,311.12L375.29,301.92L376.78,296.8L379.84,284.52L384.06,268.16L388.69,248.72L390.81,240.53L393.05,232.35 M346.62,413.3L346.62,410.01L346.38,409.68L344.53,408.37L344.3,408.04L344.37,407.71L344.9,407.38L347.34,406.39L347.74,406.06L348.08,404.75L348.59,403.43L349.07,402.44L349.69,401.46L360.45,390.19L359.3,388.32L358.57,386.45L358.38,385.38L358.48,384.04L358.82,382.17L359.05,381.37L364.89,365.21L366.26,361.12L367.6,356.01L368.47,351.93L369.06,347.84L369.54,342.73L369.83,337.62L370.06,328.42L370.46,321.27L370.74,318.2L371.27,315.13L372.1,312.07L375.32,302.87L376.84,297.76L380.15,284.47L384.38,268.12L389.05,248.7L391.19,240.53L393.43,232.35 M346.62,413.3L346.63,410.01L346.4,409.68L344.68,408.37L344.47,408.04L344.56,407.71L345.09,407.38L347.46,406.39L347.82,406.06L348.1,404.75L348.47,403.76L349.08,402.44L349.71,401.46L360.59,390.03L359.44,388.15L358.71,386.28L358.53,385.21L358.65,383.88L359.01,382.01L359.24,381.21L366.22,362.01L367.67,356.9L368.84,351.8L369.58,346.69L370.11,340.57L370.26,336.48L370.31,328.32L370.49,322.19L370.71,319.13L371.21,316.07L372.04,313L375.37,303.81L376.93,298.71L380.48,284.42L384.73,268.08L389.44,248.68L391.58,240.52L393.84,232.35 M346.62,413.3L346.65,410.01L346.43,409.68L344.83,408.37L344.66,408.04L344.77,407.71L345.3,407.38L347.58,406.39L347.92,406.06L348.12,404.75L348.35,404.09L349.1,402.44L349.72,401.46L360.74,389.85L359.59,387.98L358.8,385.84L358.71,385.31L358.73,384.51L359.09,382.37L359.45,381.04L365.45,364.92L366.86,360.84L367.73,357.78L368.78,353.7L369.41,350.64L369.74,348.6L370.23,344.52L370.6,339.42L370.66,335.35L370.52,328.21L370.53,323.11L370.7,320.05L371.17,316.99L372.01,313.93L375.47,304.75L377.05,299.65L380.57,285.38L385.36,267.02L389.86,248.67L392.01,240.51L394.27,232.35 M346.62,413.3L346.66,410.01L346.45,409.68L344.99,408.37L344.86,408.04L344.99,407.71L345.51,407.38L347.71,406.39L348.02,406.06L348.08,405.07L348.37,404.09L349.11,402.44L349.74,401.46L356.78,394.12L360.9,389.66L359.74,387.79L358.97,385.66L358.89,384.59L359.23,382.46L359.67,380.86L365.76,364.76L367.19,360.68L369.17,353.55L369.83,350.5L370.32,347.44L370.78,343.37L371.03,339.29L371.02,335.22L370.65,327.07L370.59,324.02L370.72,320.96L371.18,317.91L372.02,314.85L375.24,306.7L376.3,303.65L377.2,300.59L380.68,286.33L385.75,266.98L390.04,249.66L392.18,241.52L394.73,232.35 M346.62,413.3L346.67,410.01L346.48,409.68L345.16,408.37L345.06,408.04L345.22,407.71L345.74,407.38L347.85,406.39L348.12,406.06L348.16,404.75L348.52,403.76L349.13,402.44L349.75,401.46L356.92,394.02L361.07,389.45L360.35,388.39L359.91,387.59L359.14,385.46L359.08,384.4L359.44,382.26L359.9,380.67L360.78,378.54L366.08,364.59L367.53,360.52L368.75,356.45L369.83,352.38L370.27,350.35L370.78,347.3L371.26,343.23L371.47,339.16L371.37,335.09L370.83,327.97L370.69,324.92L370.8,321.87L371.25,318.81L372.11,315.76L372.88,313.73L375.45,307.62L376.17,305.59L377.12,302.54L377.92,299.49L381.07,286.26L386.17,266.94L390.24,250.66L392.65,241.51L395.21,232.35 M346.62,413.3L346.69,410.01L346.51,409.68L345.56,408.69L345.34,408.37L345.28,408.04L345.46,407.71L348,406.39L348.23,406.06L348.15,405.07L348.41,404.09L348.98,402.77L349.77,401.46L357.05,393.91L361.25,389.24L360.52,388.18L360.08,387.38L359.65,386.32L359.33,385.25L359.27,384.19L359.66,382.06L360.04,380.73L361.04,378.34L366.43,364.41L367.9,360.35L369.15,356.28L370.27,352.22L370.73,350.19L371.26,347.14L371.74,343.08L371.9,339.01L371.79,335.97L371.08,328.86L370.88,325.81L370.96,322.76L371.45,319.71L372.31,316.67L373.09,314.63L375.73,308.54L376.45,306.51L377.37,303.46L378.14,300.41L380.22,291.27L381.74,285.17L386.6,266.89L392.05,245.56L395.71,232.35 M346.62,413.3L346.71,410.01L346.54,409.68L345.7,408.69L345.53,408.37L345.51,408.04L345.71,407.71L348.15,406.39L348.35,406.06L348.19,405.07L348.32,404.42L348.99,402.77L349.79,401.46L357.2,393.8L361.44,389.02L360.7,387.96L360.26,387.16L359.84,386.1L359.53,385.04L359.48,383.98L359.89,381.85L360.29,380.52L361.31,378.13L366.39,365.24L368.28,360.17L369.87,355.09L370.73,352.05L371.21,350.02L371.77,346.98L372.24,342.92L372.36,338.86L372.19,335.82L371.36,328.72L371.2,325.68L371.29,323.65L371.81,320.6L372.35,318.58L373.05,316.55L376.1,309.45L376.82,307.42L377.41,305.39L378.41,301.33L380.41,292.2L381.91,286.11L387.33,265.83L392.84,244.52L396.25,232.35 M346.62,413.3L346.72,410.01L346.57,409.68L345.85,408.69L345.73,408.37L345.75,408.04L345.98,407.71L347.84,406.72L348.31,406.39L348.47,406.06L348.23,405.07L348.24,404.75L348.71,403.43L349.57,401.79L350.38,400.8L352.38,398.82L357.59,393.42L361.63,388.79L360.9,387.73L360.46,386.93L360.03,385.87L359.73,384.81L359.7,383.75L360.13,381.63L360.55,380.3L361.6,377.92L363.42,373.41L367.16,364.03L368.68,359.98L370.32,354.91L371.21,351.87L371.71,349.85L372.29,346.81L372.76,342.76L372.86,339.72L372.66,335.67L372.06,330.6L371.81,327.56L371.87,324.52L372.18,322.5L372.69,320.47L373.65,317.43L376.58,310.34L377.57,307.31L378.51,303.25L380.39,294.14L382.1,287.05L388.35,263.75L393.38,244.5L396.8,232.35 M346.62,413.3L346.74,410.01L346.01,408.69L345.94,408.37L346,408.04L346.25,407.71L348.06,406.72L348.48,406.39L348.6,406.06L348.27,405.07L348.27,404.75L348.73,403.43L349.59,401.79L350.4,400.8L352.41,398.82L357.76,393.29L361.83,388.55L361.1,387.49L360.66,386.69L360.23,385.63L359.95,384.57L359.93,383.52L360.39,381.4L360.83,380.07L361.9,377.69L363.76,373.19L367.56,363.82L369.1,359.78L370.79,354.72L371.71,351.69L372.23,349.67L372.83,346.63L373.32,342.59L373.43,339.55L373.36,336.52L372.75,328.43L372.83,325.39L373.11,323.37L373.63,321.35L374.88,317.3L376.82,312.25L377.83,309.21L378.54,306.18L379.82,299.1L380.63,295.05L382.57,286.96L389.14,262.69L393.95,244.49L397.39,232.35 M346.62,413.3L346.76,410.01L346.28,409.02L346.16,408.37L346.27,408.04L346.54,407.71L348.28,406.72L348.65,406.39L348.73,406.06L348.32,405.07L348.3,404.75L348.75,403.43L349.61,401.79L350.42,400.8L352.44,398.82L357.93,393.15L362.05,388.29L361,386.71L360.36,385.12L360.13,383.8L360.31,382.48L361.01,380.1L362.22,377.45L363.78,373.75L369.16,360.58L371.61,353.51L372.77,349.47L373.56,345.44L374,341.4L374.19,336.35L374.08,331.3L374.11,328.27L374.32,325.24L374.67,323.22L376.34,317.16L377.94,312.12L378.49,310.1L378.91,308.08L379.96,301.01L380.7,296.97L381.57,292.93L383.06,286.87L389.95,261.63L394.81,243.46L398,232.35 M346.62,413.3L346.78,410.01L346.39,409.02L346.38,408.37L346.54,408.04L346.85,407.71L348.51,406.72L348.84,406.39L348.87,406.06L348.37,405.07L348.34,404.75L348.77,403.43L349.63,401.79L350.44,400.8L352.47,398.82L358.11,393.01L359.8,391.07L362.27,388.03L361.22,386.44L360.59,384.86L360.37,383.54L360.57,382.22L361.3,379.85L362.55,377.21L364.14,373.51L369.61,360.36L372.14,353.31L373.34,349.28L373.99,346.25L374.62,342.22L375.28,336.17L375.64,331.13L376.02,327.1L376.4,324.08L379.24,310.97L379.55,308.96L380.07,303.92L380.47,300.89L381.62,294.84L382.8,289.8L384.38,283.76L390.52,261.58L395.71,242.43L398.63,232.35 M346.62,413.3L346.8,410.01L346.58,409.35L346.52,408.69L346.82,408.04L347.16,407.71L348.76,406.72L349.02,406.39L349.01,406.06L348.41,405.07L348.37,404.75L348.79,403.43L349.65,401.79L350.47,400.8L352.5,398.82L358.3,392.86L360.25,390.59L362.5,387.75L361.75,386.7L361.31,385.91L360.99,385.12L360.69,384.06L360.62,383.27L360.67,382.75L361.13,380.9L361.61,379.59L362.76,377.22L364.29,373.79L369.67,361.14L372.32,354.1L373.65,350.08L374.18,348.06L375.05,344.04L375.98,339.01L376.82,334.98L378.01,327.94L378.52,323.91L379.17,319.89L380.05,311.84L380.53,304.8L380.84,301.78L381.32,298.76L382.14,294.73L383.33,289.7L384.91,283.67L391.4,260.52L396.35,242.41L399.29,232.35 M346.62,413.3L346.82,410.01L346.65,409.35L346.71,408.69L347.12,408.04L347.49,407.71L349.01,406.72L349.22,406.39L349.16,406.06L348.46,405.07L348.4,404.75L348.81,403.43L349.68,401.79L350.49,400.8L352.54,398.82L358.49,392.71L360.47,390.38L362.74,387.47L361.98,386.41L361.54,385.63L361.22,384.84L360.94,383.79L360.88,383L360.94,382.47L361.43,380.63L361.93,379.32L363.24,376.69L365.26,372.22L370.15,360.91L373.24,352.87L374.55,348.85L376.88,339.82L378.67,333.79L379.88,328.77L380.23,326.76L380.85,319.73L380.97,307.68L381.13,303.66L381.5,300.65L382.46,295.62L383.88,289.6L385.47,283.57L392.01,260.47L397.02,242.39L399.98,232.35 M346.62,413.3L346.68,411.66L346.84,410.01L346.73,409.35L346.76,409.02L346.9,408.69L347.42,408.04L348.88,407.05L349.27,406.72L349.43,406.39L349.32,406.06L348.52,405.07L348.44,404.75L348.84,403.43L349.7,401.79L350.52,400.8L352.57,398.82L358.69,392.55L360.71,390.16L362.99,387.17L362.23,386.12L361.79,385.33L361.47,384.55L361.2,383.5L361.15,382.97L361.22,382.18L361.74,380.35L362.26,379.04L363.61,376.41L366.23,370.69L369.78,362.67L371.87,357.65L374.55,350.64L377.38,341.62L380.23,333.6L381.57,328.58L381.91,326.58L382.08,324.57L382.16,319.56L381.66,312.54L381.51,306.53L381.57,304.53L381.74,302.52L382.39,298.51L383.71,292.5L385.77,284.48L390.02,269.44L392.94,259.42L397.71,242.37L400.69,232.35 M346.62,413.3L346.69,411.66L346.87,410.01L346.8,409.35L346.9,409.02L347.09,408.69L347.74,408.04L349.2,407.05L349.54,406.72L349.64,406.39L349.48,406.06L348.57,405.07L348.48,404.75L348.86,403.43L349.73,401.79L350.54,400.8L352.61,398.82L358.9,392.38L360.95,389.93L363.24,386.86L362.48,385.82L362.04,385.03L361.72,384.24L361.46,383.2L361.42,382.67L361.51,381.89L362.05,380.05L362.47,379.01L363.99,376.13L366.21,371.41L369.84,363.41L372,358.41L374.81,351.4L377.3,344.4L380.81,335.4L381.48,333.4L382.28,330.39L382.71,328.39L383,326.39L383.14,324.39L383.14,321.39L383.03,319.39L382.22,312.39L381.99,308.38L382.02,305.38L382.15,303.38L382.76,299.38L384.3,292.38L386.36,284.37L390.64,269.37L394.48,256.36L398.72,241.35L401.42,232.35 M346.62,413.3L346.88,409.35L347.04,409.02L347.65,408.37L349.53,407.05L349.82,406.72L349.86,406.39L349.64,406.06L348.62,405.07L348.52,404.75L348.65,404.09L348.89,403.43L349.75,401.79L350.57,400.8L356.41,395.05L359.12,392.21L361.2,389.69L363.51,386.55L362.74,385.5L362.3,384.72L361.99,383.93L361.78,383.15L361.71,382.36L361.75,381.84L362.38,379.75L362.82,378.71L364.25,376.09L366.41,371.65L369.89,364.14L372.12,359.15L375.47,351.16L377.82,345.17L379.9,340.18L381.78,335.18L382.34,333.19L383,330.19L383.46,327.2L383.62,325.2L383.66,323.2L383.57,320.21L382.64,312.22L382.44,308.23L382.52,305.23L382.69,303.24L383.35,299.24L384.91,292.25L386.98,284.27L391.28,269.29L395.47,255.31L399.46,241.34L402.18,232.35 M346.62,413.3L346.7,411.66L346.97,409.35L347.51,408.69L349.87,407.05L350.11,406.72L350.08,406.39L349.81,406.06L348.68,405.07L348.55,404.75L348.68,404.09L348.91,403.43L349.78,401.79L350.6,400.8L352.68,398.82L356.88,394.62L359.34,392.04L361.46,389.45L363.79,386.22L363.01,385.18L362.57,384.39L362.26,383.61L362.06,382.83L362,382.05L362.06,381.52L362.72,379.44L363.18,378.39L364.52,376.05L366.48,372.14L371.78,360.87L380.04,341.94L380.85,339.95L381.9,336.96L382.48,334.97L383.1,331.98L383.54,328.99L383.79,326L383.86,323.01L383.77,320.02L382.99,312.05L382.88,309.06L382.92,307.07L383.14,304.08L383.76,300.1L385.55,292.13L387.62,284.16L391.95,269.21L395.32,258.25L400.23,241.32L402.97,232.35 M346.62,413.3L346.74,411.33L347.05,409.35L347.73,408.69L349.82,407.38L350.23,407.05L350.41,406.72L350.32,406.39L348.74,405.07L348.6,404.75L348.71,404.09L348.94,403.43L349.81,401.79L350.63,400.8L352.72,398.82L357.04,394.51L359.57,391.85L361.72,389.2L364.07,385.88L363.46,385.1L362.98,384.32L362.63,383.54L362.4,382.76L362.3,381.98L362.33,381.46L362.77,379.89L363.41,378.33L364.93,375.73L366.94,371.83L371.41,362.57L380.07,343.69L381.31,340.7L382,338.72L382.85,335.73L383.27,333.75L383.68,330.76L383.94,327.78L384.04,324.8L383.97,320.82L383.4,312.87L383.32,309.89L383.45,306.91L383.73,303.92L384.4,299.95L386.44,291L388.28,284.04L392.64,269.13L396.67,256.21L401.02,241.3L403.78,232.35 M346.62,413.3L346.75,411.33L347,409.68L347.14,409.35L347.95,408.69L350.22,407.38L350.59,407.05L350.72,406.72L350.56,406.39L349.18,405.4L348.8,405.07L348.64,404.75L348.74,404.09L348.97,403.43L349.84,401.79L350.66,400.8L352.76,398.82L357.21,394.39L359.8,391.67L362,388.94L364.36,385.53L363.75,384.75L363.27,383.97L362.92,383.19L362.7,382.41L362.61,381.64L362.65,381.12L363.12,379.56L363.79,378L365.21,375.66L367.15,372.03L371.5,363.27L375.68,354.34L380.03,345.42L381.34,342.44L382.43,339.47L383.26,336.49L383.7,334.51L384.01,332.52L384.38,328.56L384.46,326.57L384.44,324.59L384.23,319.63L383.84,313.68L383.79,310.7L383.94,307.73L384.24,304.75L384.51,302.77L385.07,299.79L387.12,290.87L388.96,283.92L393.35,269.05L397.75,255.16L401.84,241.28L404.62,232.35 M346.62,413.3L346.81,411L347.05,409.68L347.23,409.35L348.19,408.69L350.11,407.71L350.63,407.38L350.97,407.05L351.03,406.72L350.8,406.39L349.28,405.4L348.87,405.07L348.68,404.75L348.77,404.09L349,403.43L349.87,401.79L350.69,400.8L352.8,398.82L357.39,394.27L360.05,391.47L362.28,388.67L364.66,385.17L364.05,384.39L363.56,383.62L363.06,382.32L362.94,381.54L362.94,381.03L363.1,380.25L363.37,379.47L364.03,377.92L365.65,375.33L366.8,373.26L371.09,364.94L376.35,354.06L380.4,346.14L381.74,343.17L382.87,340.2L383.74,337.24L384.45,334.27L384.77,332.29L385.05,329.32L385.15,327.34L385.15,325.36L384.43,315.47L384.32,311.51L384.48,308.54L384.91,304.58L385.19,302.6L385.76,299.64L387.81,290.73L389.66,283.8L394.08,268.96L398.56,255.11L402.68,241.26L405.48,232.35" fill="none" stroke="#000" stroke-width="0.5" stroke-linejoin="round"/>
<path d="M346.62,413.3L346.82,411L347.1,409.68L347.33,409.35L348.43,408.69L350.54,407.71L351.05,407.38L351.36,407.05L351.36,406.72L351.06,406.39L349.38,405.4L348.93,405.07L348.73,404.75L348.8,404.09L349.03,403.43L349.9,401.79L350.72,400.8L352.85,398.82L357.57,394.15L360.3,391.27L362.57,388.4L364.98,384.8L364.35,384.03L363.87,383.25L363.37,381.96L363.26,381.18L363.27,380.67L363.44,379.89L363.73,379.12L364.57,377.31L366.25,374.72L369.09,369.56L372.15,363.63L376.54,354.75L380.75,346.85L382.55,342.9L383.69,339.94L384.59,336.98L385.35,334.02L385.69,332.05L385.97,329.08L386.08,327.11L386.04,325.14L385.14,316.25L384.99,314.28L384.95,312.3L385.01,310.33L385.27,307.37L385.75,303.42L386.28,300.46L388.53,290.59L390.38,283.68L394.83,268.87L399.7,254.07L403.55,241.23L406.37,232.35 M347.58,413.3L347.63,412.31L347.84,411L348.21,409.68L348.57,408.69L348.89,408.37L349.41,408.04L353.88,406.06L354.36,405.73L354.62,405.4L354.59,405.07L354.21,404.75L352.16,403.76L351.63,403.43L351.4,403.1L351.53,402.44L352.15,401.46L356.86,396.35L364.6,388.94L371.01,383.01L372.43,381.53L374.15,379.55L372.8,378.31L372.41,377.81L372.17,377.31L371.82,374.81L371.79,372.82L372,371.82L372.47,370.57L374.85,365.83L375.92,363.88L377.64,361.02L381.85,354.35L384.41,350.54L386.44,347.68L393.14,339.1L400.39,329.57L405.86,322.9L409.25,318.13L413.56,311.46L423.56,295.26L426.78,289.54L432.39,279.05L434.2,275.24L435.87,271.43L436.98,268.57L438.32,264.76L439.43,260.94L440.47,255.22L440.81,252.37L440.88,250.46L440.65,243.79L440.47,240.93L440.16,238.07L439.16,232.35 M347.63,413.3L347.68,412.31L347.89,411L348.26,409.68L348.62,408.69L348.94,408.37L349.48,408.04L352.59,406.72L353.95,406.06L354.4,405.73L354.62,405.4L354.57,405.07L354.18,404.75L352.16,403.76L351.64,403.43L351.43,403.1L351.57,402.44L352.2,401.46L354.05,399.48L355.95,397.26L357.96,395.18L372.05,382.16L373.51,380.6L375.17,378.52L373.94,377.28L373.3,376.29L373.1,375.55L373.01,374.8L372.95,373.32L373,371.83L373.17,371.09L373.5,370.34L376.69,364.64L378.95,361.06L382.1,356.33L388.09,347.81L402.45,328.88L407.66,322.26L410.35,318.47L415.33,310.9L424.9,295.76L428.3,290.08L433.2,281.56L436.8,274.94L440.08,268.31L443.01,261.69L445.08,256.01L446.56,251.28L447.89,245.6L449.22,238.97L450.16,232.35 M347.68,413.3L347.73,412.31L347.94,411L348.31,409.68L348.67,408.69L349,408.37L349.54,408.04L352.69,406.72L354.02,406.06L354.43,405.73L354.63,405.4L354.55,405.07L354.15,404.75L352.15,403.76L351.66,403.43L351.45,403.1L351.6,402.44L352.25,401.46L354.09,399.48L356.48,396.62L358.05,394.97L370.73,383.4L373.03,381.2L374.53,379.54L376.11,377.34L375.2,376.36L374.63,375.62L374.36,375.13L374.11,374.39L374.04,372.92L374.15,370.71L374.26,370.21L374.6,369.48L378.59,363.09L384.67,354.39L390.9,345.94L408.66,322.47L411.36,318.72L418.26,308.39L425.56,297.13L429.69,290.56L435.41,281.17L439.28,274.6L442.98,268.02L447.01,260.51L450.28,253.94L452.89,248.31L456.53,239.86L459.52,232.35 M347.71,413.3L347.76,412.31L347.98,411L348.34,409.68L348.71,408.69L349.04,408.37L349.59,408.04L353.49,406.39L354.07,406.06L354.46,405.73L354.63,405.4L354.54,405.07L354.13,404.75L352.15,403.76L351.67,403.43L351.47,403.1L351.51,402.77L351.63,402.44L352.02,401.79L354.13,399.48L356.03,397.1L357.55,395.39L359.35,393.67L372.61,381.63L374.83,379.34L376.49,377.05L376.83,376.48L375.44,374.77L375.04,374.03L374.84,373.3L374.85,371.84L375.01,369.88L375.13,369.39L375.51,368.66L379.01,363.29L384.57,355.53L411.24,320.07L417.04,311.67L426.32,297.67L432.34,288.34L438.21,279.01L443.36,270.61L448.92,261.28L453.24,253.81L456.86,247.28L460.86,239.82L464.69,232.35 M347.75,413.3L347.8,412.31L348.02,411L348.38,409.68L348.75,408.69L349.09,408.37L349.65,408.04L353.57,406.39L354.13,406.06L354.49,405.73L354.64,405.4L354.52,405.07L354.1,404.75L352.15,403.76L351.68,403.43L351.49,403.1L351.54,402.77L352.06,401.79L354.17,399.48L356.55,396.44L358.2,394.65L372.77,381.53L375.15,379.14L376.54,377.35L377.61,375.56L376.81,374.59L376.15,373.62L375.8,372.89L375.69,372.41L375.74,370.95L375.95,369.01L376.08,368.52L376.48,367.79L379.77,362.94L385.13,355.68L395.79,341.77L410.51,322.3L414.52,316.73L419.66,309.31L425.97,300.04L434.62,287.06L448.45,265.73L454.98,255.53L460.18,247.19L464.65,239.77L468.99,232.35 M347.8,413.3L347.85,412.31L348.06,411L348.42,409.68L348.79,408.69L349.13,408.37L349.7,408.04L353.64,406.39L354.19,406.06L354.53,405.73L354.64,405.4L354.51,405.07L354.08,404.75L352.14,403.76L351.69,403.43L351.52,403.1L351.57,402.77L352.09,401.79L354.21,399.48L356.58,396.35L358.26,394.49L372.83,381.48L375.35,379L376.92,377.14L377.69,375.9L378.33,374.67L376.95,372.74L376.6,372.01L376.49,371.53L376.58,370.08L376.85,368.15L376.98,367.67L377.38,366.95L380.05,363.09L381.84,360.67L396.31,342L410.35,323.58L418.38,312.52L426.77,300.54L435.63,287.64L457.55,255.39L465.58,243.41L472.72,232.35 M347.84,413.3L347.89,412.31L348.1,411L348.47,409.68L348.84,408.69L349.18,408.37L349.76,408.04L353.72,406.39L354.25,406.06L354.56,405.73L354.65,405.4L354.49,405.07L354.05,404.75L352.14,403.76L351.7,403.43L351.54,403.1L351.59,402.77L352.13,401.79L354.26,399.48L356.61,396.25L358.33,394.32L372.87,381.45L375.53,378.87L377.28,376.94L378.13,375.65L379.08,373.72L377.78,371.8L377.45,371.09L377.34,370.61L377.45,369.17L377.77,367.25L378.02,366.53L378.46,365.81L381.92,361.02L398.2,340.36L411.57,322.97L417.68,314.73L428.24,300.09L450.9,268.05L466.62,246.08L476.16,232.35 M347.88,413.3L347.93,412.31L348.15,411L348.51,409.68L348.88,408.69L349.23,408.37L349.82,408.04L353.81,406.39L354.31,406.06L354.59,405.73L354.65,405.4L354.47,405.07L354.02,404.75L352.14,403.76L351.71,403.43L351.56,403.1L351.62,402.77L352.17,401.79L354.3,399.48L354.83,398.82L356.65,396.15L358.4,394.15L373.62,380.78L376.36,378.11L378.15,376.1L379,374.77L379.89,372.76L378.66,370.86L378.34,370.15L378.24,369.67L378.36,368.24L378.79,366.1L379.1,365.39L379.55,364.67L382.88,360.15L397.9,341.45L412.06,323.26L416.9,316.9L429.06,300.54L452.35,268.72L469.93,245.08L479.22,232.35 M347.93,413.3L347.98,412.31L348.2,411L348.56,409.68L348.93,408.69L349.29,408.37L349.89,408.04L353.9,406.39L354.38,406.06L354.63,405.73L354.66,405.4L354.45,405.07L353.99,404.75L352.13,403.76L351.73,403.43L351.59,403.1L351.65,402.77L352.21,401.79L354.06,399.81L354.88,398.82L356.71,396.04L357.84,394.64L358.51,393.94L360.04,392.55L364.22,389.06L374.56,380L377.42,377.21L379.27,375.12L380.11,373.73L380.73,372.33L380.95,371.64L380.01,370.22L379.47,369.04L379.37,368.33L379.54,366.91L379.91,365.26L380.15,364.55L380.52,363.85L381.5,362.43L384.4,358.65L399.17,340.57L416.24,318.93L430.77,299.99L455.42,267.52L473.46,244.07L482.37,232.35 M347.98,413.3L348.03,412.31L348.24,411L348.61,409.68L348.98,408.69L349.35,408.37L349.96,408.04L353.99,406.39L354.45,406.06L354.67,405.73L354.67,405.4L354.43,405.07L353.96,404.75L352.13,403.76L351.74,403.43L351.62,403.1L351.68,402.77L352.25,401.79L354.12,399.81L354.92,398.82L356.29,396.64L357.34,395.19L357.95,394.47L359.43,393.01L364.7,388.65L375.63,379.21L378.61,376.3L380.54,374.13L381.39,372.67L381.99,371.22L382.19,370.49L381.26,369.09L380.75,367.92L380.65,366.98L380.8,365.81L381.19,364.17L381.52,363.23L382.03,362.3L382.86,361.13L385.6,357.62L390.17,352.21L399.73,340.58L417.67,318.22L485.24,232.35 M348.03,413.3L348.08,412.31L348.29,411L348.66,409.68L349.03,408.69L349.4,408.37L350.02,408.04L353.41,406.72L354.08,406.39L354.52,406.06L354.71,405.73L354.67,405.4L354.41,405.07L352.13,403.76L351.75,403.43L351.64,403.1L351.71,402.77L352.29,401.79L354.17,399.81L354.97,398.82L356.4,396.55L357.5,395.03L358.15,394.27L359.74,392.76L365.4,388.21L377.1,378.35L380.27,375.32L381.71,373.8L382.32,373.04L382.82,372.29L383.2,371.53L383.82,370.01L384.01,369.25L382.91,367.63L382.44,366.47L382.39,365.31L382.72,363.45L383.21,361.83L383.57,361.13L386.15,357.65L399.72,341.38L419.23,317.45L488.11,232.35 M348.08,413.3L348.13,412.31L348.34,411L348.7,409.68L349.08,408.69L349.45,408.37L350.08,408.04L353.5,406.72L354.16,406.39L354.58,406.06L354.74,405.73L354.68,405.4L354.4,405.07L352.12,403.76L351.76,403.43L351.66,403.1L351.74,402.77L352.33,401.79L354.21,399.81L355.01,398.82L356.53,396.46L357.7,394.88L358.39,394.09L360.08,392.51L366.15,387.78L372.98,382.26L378.67,377.53L380.42,375.95L382.84,373.58L384.23,372.01L384.76,371.22L385.17,370.43L385.81,368.85L386.01,368.06L384.83,366.45L384.48,365.76L384.26,365.07L384.2,364.61L384.23,363.69L384.52,362.08L384.9,360.7L385.34,359.78L388.27,355.87L401.23,340.43L425.93,310.56L490.88,232.35 M348.12,413.3L348.17,412.31L348.38,411L348.74,409.68L349.12,408.69L349.5,408.37L350.14,408.04L353.59,406.72L354.25,406.39L354.65,406.06L354.77,405.73L354.68,405.4L354.38,405.07L353.88,404.75L352.12,403.76L351.78,403.43L351.69,403.1L351.76,402.77L352.37,401.79L354.26,399.81L355.05,398.82L357.23,395.55L358.6,393.91L359.45,393.09L361.41,391.45L366.84,387.36L374.09,381.63L380.13,376.72L381.97,375.08L384.53,372.62L386,370.99L386.55,370.17L386.97,369.35L387.63,367.71L387.83,366.89L386.63,365.29L386.27,364.61L386.03,363.93L385.94,363.24L385.96,362.56L386.23,360.96L386.59,359.59L387,358.68L387.62,357.77L389.94,354.81L401.47,341.24L432.21,304.65L493.65,232.35 M348.17,413.3L348.22,412.31L348.43,411L348.79,409.68L349.17,408.69L349.55,408.37L350.2,408.04L353.69,406.72L354.33,406.39L354.71,406.06L354.81,405.73L354.69,405.4L354.36,405.07L352.11,403.76L351.79,403.43L351.71,403.1L351.79,402.77L352.41,401.79L354.31,399.81L355.09,398.82L356.77,396.27L358.05,394.57L358.82,393.72L360.72,392.02L367.56,386.92L375.25,380.97L381.64,375.86L383.59,374.16L387.11,370.76L387.83,369.91L388.42,369.06L389.23,367.36L389.74,365.66L388.83,364.53L388.28,363.63L387.92,362.72L387.8,361.82L387.99,360.24L388.54,358.2L388.98,357.3L389.64,356.4L392.8,352.55L399.77,344.56L432.93,305.72L465.71,267.74L496.43,232.35 M348.21,413.3L348.26,412.31L348.47,411L348.83,409.68L349.21,408.69L349.6,408.37L350.26,408.04L353.77,406.72L354.41,406.39L354.77,406.06L354.84,405.73L354.69,405.4L354.34,405.07L352.61,404.09L352.11,403.76L351.8,403.43L351.73,403.1L351.82,402.77L352.45,401.79L354.05,400.14L355.13,398.82L356.88,396.18L358.22,394.42L359.02,393.54L361.02,391.78L367.06,387.39L374.03,382.11L383.05,375.07L385.1,373.31L388.79,369.79L389.55,368.91L390.16,368.03L390.99,366.27L391.31,365.39L391.51,364.51L390.61,363.39L390.07,362.49L389.71,361.6L389.58,360.7L389.71,359.36L390.27,357.34L390.64,356.44L391.25,355.55L394.86,351.29L401.7,343.59L426.89,314.5L444.05,294.82L472.54,262.3L498.91,232.35 M348.26,413.3L348.3,412.31L348.51,411L348.88,409.68L349.26,408.69L349.65,408.37L350.33,408.04L353.87,406.72L354.5,406.39L354.84,406.06L354.88,405.73L354.7,405.4L354.33,405.07L352.11,403.76L351.81,403.43L351.76,403.1L351.85,402.77L352.49,401.79L354.1,400.14L354.92,399.15L357,396.09L358.4,394.27L359.24,393.35L361.34,391.53L368.95,386.06L377.49,379.68L383.42,375.12L386.71,372.39L390.59,368.74L391.38,367.83L392.02,366.92L392.89,365.09L393.21,364.18L393.42,363.27L392.53,362.16L391.99,361.27L391.64,360.39L391.5,359.5L391.63,358.17L392.07,356.61L392.6,355.28L393.21,354.39L397.63,349.33L403.76,342.55L456.95,282.36L501.49,232.35 M348.3,413.3L348.35,412.31L348.56,411L348.93,409.68L349.31,408.69L349.71,408.37L350.39,408.04L353.96,406.72L354.58,406.39L354.9,406.06L354.91,405.73L354.7,405.4L354.31,405.07L352.1,403.76L351.83,403.43L351.78,403.1L351.87,402.77L352.53,401.79L354.71,399.48L357.12,395.99L358.59,394.1L359.47,393.16L361.67,391.27L369.69,385.61L378.69,379L384.92,374.28L388.38,371.44L392.44,367.67L393.28,366.72L393.94,365.78L394.84,363.89L395.17,362.94L395.38,362L394.51,360.9L393.87,359.8L393.56,358.92L393.46,358.05L393.65,356.73L394.15,355.19L394.61,354.09L395.39,352.99L400.36,347.36L406.53,340.64L461.66,279.36L504.07,232.35 M348.35,413.3L348.4,412.31L348.61,411L348.97,409.68L349.36,408.69L349.76,408.37L350.46,408.04L354.06,406.72L354.68,406.39L354.97,406.06L354.95,405.73L354.71,405.4L354.29,405.07L352.1,403.76L351.84,403.43L351.81,403.1L351.9,402.77L352.57,401.79L354.2,400.14L354.76,399.48L357.25,395.89L358.78,393.94L359.7,392.96L362.02,391L370.46,385.14L379.92,378.3L386.47,373.41L390.09,370.48L394.35,366.57L395.22,365.59L395.92,364.61L396.85,362.66L397.18,361.68L397.39,360.7L396.53,359.61L395.9,358.52L395.55,357.44L395.49,356.57L395.72,355.26L396.46,353.3L396.94,352.43L397.61,351.56L403.05,345.37L410.78,337.06L432.16,313.79L506.65,232.35 M348.4,413.3L348.44,412.31L348.65,411L349.01,409.68L349.4,408.69L349.81,408.37L350.51,408.04L354.15,406.72L354.75,406.39L355.03,406.06L354.98,405.73L354.71,405.4L352.1,403.76L351.85,403.43L351.83,403.1L351.93,402.77L352.61,401.79L354.25,400.14L354.8,399.48L357.36,395.81L358.94,393.8L359.9,392.79L362.3,390.78L371.1,384.75L380.95,377.71L387.76,372.68L391.53,369.67L395.95,365.64L396.86,364.64L397.58,363.63L398.53,361.62L398.87,360.62L399.08,359.61L397.95,358.1L397.36,356.81L397.22,356.16L397.19,355.51L397.26,354.87L397.48,354L398.19,352.28L398.68,351.41L401.86,347.53L406.15,342.77L423.24,324.64L457.75,287.56L485.23,257.89L508.76,232.35 M348.44,413.3L348.49,412.31L348.69,411L349.06,409.68L349.44,408.69L349.86,408.37L350.57,408.04L354.24,406.72L354.84,406.39L355.09,406.06L355.02,405.73L354.72,405.4L352.09,403.76L351.86,403.43L351.86,403.1L351.96,402.77L352.64,401.79L354.3,400.14L354.84,399.48L357.47,395.72L359.11,393.65L360.11,392.61L362.61,390.54L371.78,384.33L382.06,377.08L389.16,371.9L393.07,368.79L397.67,364.65L398.61,363.62L399.36,362.58L400.34,360.51L400.69,359.48L400.9,358.44L399.79,356.94L399.21,355.66L399.06,355.02L399.02,354.38L399.09,353.74L399.32,352.88L400.07,351.17L400.57,350.32L401.69,348.82L404.13,345.83L407.8,341.75L425.9,322.97L462.98,283.78L488.23,256.84L510.96,232.35 M348.49,413.3L348.53,412.31L348.74,411L349.1,409.68L349.49,408.69L349.91,408.37L350.63,408.04L354.33,406.72L354.92,406.39L355.16,406.06L355.05,405.73L354.72,405.4L352.51,404.09L352.09,403.76L351.87,403.43L351.98,402.77L352.68,401.79L354.63,399.81L357.59,395.62L359.29,393.49L360.32,392.42L361.54,391.36L362.93,390.29L372.5,383.89L383.21,376.43L390.6,371.09L394.67,367.9L399.45,363.63L400.43,362.56L401.2,361.5L402.21,359.36L402.57,358.3L402.78,357.23L401.7,355.75L401.27,354.9L401.06,354.27L400.95,353.63L400.94,353L401.23,351.73L402.04,350.03L402.83,348.76L404.67,346.22L406.55,343.93L410.23,339.89L415.91,334.23L427.83,322.1L447.36,301.89L465.2,283.29L490.52,256.61L513.16,232.35 M348.53,413.3L348.58,412.31L348.79,411L349.15,409.68L349.54,408.69L349.97,408.37L350.7,408.04L354.43,406.72L355.01,406.39L355.22,406.06L355.09,405.73L354.73,405.4L352.49,404.09L352.09,403.76L351.89,403.43L352.01,402.77L352.72,401.79L354.68,399.81L357.71,395.53L359.47,393.34L360.54,392.24L361.81,391.14L363.25,390.05L373.2,383.46L384.35,375.78L392.03,370.29L396.26,367L401.22,362.61L402.24,361.52L403.04,360.42L404.07,358.22L404.44,357.13L404.65,356.03L403.59,354.56L403.18,353.72L402.97,353.09L402.84,351.84L403.13,350.58L403.87,349.11L405.98,345.76L407.23,344.08L408.92,342.06L411.07,339.66L412.63,338.06L416.81,334.05L423.29,327.65L435.26,315.63L451.8,298.82L467.4,282.8L480.53,269.19L492.76,256.37L504.08,244.36L515.26,232.35 M346.66,413.3L346.86,411L347.14,409.68L347.37,409.35L348.43,408.69L350.52,407.71L351.05,407.38L351.37,407.05L351.41,406.72L351.15,406.39L349.6,405.4L349.17,405.07L348.96,404.75L348.97,404.09L349.14,403.43L349.98,401.79L350.81,400.8L352.92,398.82L357.71,394.08L360.5,391.15L362.86,388.23L365.36,384.58L364.73,383.81L364.23,383.03L363.88,382.26L363.68,381.48L363.62,380.71L363.67,380.19L364.17,378.65L364.88,377.1L366.37,374.78L369.08,369.87L372.43,363.44L376.87,354.57L381.14,346.69L382.95,342.74L384.47,338.8L385.66,334.86L386.13,332.89L386.76,327.96L386.85,325L386.15,316.13L386.06,314.16L386.08,312.19L386.45,308.25L387.18,303.32L387.55,301.35L389.89,291.49L391.66,284.59L393.62,277.69L396.27,267.83L400.29,254.03L403.49,242.21L406.5,232.35 M346.69,413.3L346.89,411L347.18,409.68L347.4,409.35L348.44,408.69L350.5,407.71L351.04,407.38L351.38,407.05L351.44,406.72L351.21,406.39L349.75,405.4L349.33,405.07L349.12,404.75L349.09,404.09L349.21,403.43L350.04,401.79L350.87,400.8L352.97,398.82L357.81,394.03L360.64,391.07L363.06,388.12L365.63,384.43L364.81,383.4L364.35,382.62L364.05,381.85L363.9,381.08L363.89,380.3L364.04,379.53L364.83,377.47L365.24,376.7L366.57,374.63L368.72,370.77L372.63,363.31L377.1,354.45L381.41,346.57L383.24,342.63L384.79,338.7L386.04,334.76L386.55,332.79L387.28,327.86L387.43,324.91L386.9,316.05L386.87,313.09L387.22,309.15L388.36,302.26L389.03,299.31L392.23,286.51L394.62,277.65L397.06,267.8L399.71,257.95L403.44,243.18L404.81,238.26L406.63,232.35 M346.72,413.3L346.93,411L347.21,409.68L347.43,409.35L348.44,408.69L350.49,407.71L351.03,407.38L351.39,407.05L351.48,406.72L351.29,406.39L349.52,405.07L349.3,404.75L349.22,404.09L349.3,403.43L349.56,402.77L350.11,401.79L350.93,400.8L353.02,398.82L358.3,393.59L360.8,390.98L363.57,387.62L365.93,384.25L365.1,383.22L364.64,382.45L364.34,381.68L364.18,380.91L364.17,380.14L364.31,379.36L365.08,377.3L365.48,376.53L366.78,374.47L368.37,371.64L372.34,364.15L377.36,354.31L381.71,346.44L383.12,343.49L384.41,340.54L385.16,338.57L386.16,335.62L386.77,333.66L387.23,331.69L387.99,326.77L388.1,324.8L387.79,315.95L387.83,313L388.26,309.07L389.3,303.17L389.97,300.22L395.76,277.59L397.97,267.76L399.88,259.89L403.71,243.17L405.01,238.25L406.8,232.35 M346.75,413.3L346.96,411L347.25,409.68L347.46,409.35L348.45,408.69L351.03,407.38L351.4,407.05L351.51,406.72L351.36,406.39L349.71,405.07L349.48,404.75L349.36,404.09L349.39,403.43L349.63,402.77L350.17,401.79L351,400.8L358.42,393.53L360.96,390.88L363.81,387.48L366.24,384.08L365.4,383.05L364.93,382.28L364.63,381.51L364.48,380.74L364.46,379.96L364.6,379.19L365.33,377.14L368.45,371.73L372.56,363.99L377.63,354.17L382.02,346.31L383.45,343.36L384.76,340.42L385.55,338.45L386.93,334.52L387.75,331.57L388.49,327.64L388.74,325.68L388.8,323.71L388.72,319.79L388.75,313.89L388.9,311.93L389.15,309.96L389.86,306.03L390.91,301.12L393.27,292.28L396.91,277.54L403.98,243.16L405.22,238.24L406.96,232.35 M346.79,413.3L346.83,412.31L347,411L347.3,409.68L347.5,409.35L348.45,408.69L351.02,407.38L351.41,407.05L351.56,406.72L351.45,406.39L351.15,406.06L349.94,405.07L349.71,404.75L349.61,404.42L349.49,403.43L349.72,402.77L350.26,401.79L351.08,400.8L358.56,393.45L361.51,390.38L364.41,386.93L366.62,383.86L365.76,382.83L365.29,382.06L364.99,381.29L364.84,380.52L364.82,379.75L364.94,378.98L365.64,376.93L366.02,376.16L367.28,374.1L368.85,371.28L377.96,353.99L382.4,346.15L384.32,342.22L385.64,339.28L387.83,333.39L388.39,331.43L388.84,329.47L389.56,325.55L389.69,323.58L389.74,319.66L389.94,313.77L390.14,311.81L390.62,308.87L392.11,302L395.09,291.21L397.92,279.44L398.89,274.53L404.11,244.12L405.46,238.24L407.16,232.35 M346.83,413.3L346.87,412.31L347.05,411L347.34,409.68L347.54,409.35L348.46,408.69L351.01,407.38L351.42,407.05L351.61,406.72L351.54,406.39L351.28,406.06L350.18,405.07L349.93,404.75L349.69,404.09L349.6,403.43L349.67,403.1L350.34,401.79L351.17,400.8L359.1,392.99L361.72,390.26L364.71,386.76L366.99,383.65L366.32,382.88L365.79,382.11L365.42,381.34L365.23,380.57L365.16,379.8L365.23,379.03L365.94,376.72L366.31,375.95L368.98,371.34L377.75,354.8L381.7,347.94L383.28,345.01L386.11,339.13L388.42,333.25L389.53,329.33L390.37,325.41L390.57,323.45L391.03,314.64L391.23,312.68L391.71,309.74L392.34,306.8L393.54,301.9L395.58,295.05L396.9,290.15L398.53,283.29L399.38,279.37L400.37,273.49L403.46,250.96L404.49,244.11L405.06,241.17L405.74,238.23L407.39,232.35 M346.88,413.3L346.92,412.31L347.1,411L347.4,409.68L347.59,409.35L348.47,408.69L351,407.38L351.44,407.05L351.66,406.72L351.65,406.39L351.45,406.06L350.21,404.75L349.78,403.76L349.78,403.1L350.44,401.79L351.27,400.8L359.29,392.89L361.97,390.11L365.08,386.55L367.45,383.38L366.57,382.36L366.08,381.59L365.78,380.82L365.63,380.06L365.6,379.29L365.71,378.52L366.42,376.22L369.16,371.35L377.6,355.57L382.13,347.74L383.75,344.81L386.69,338.94L388.37,335.03L389.49,332.1L390.65,328.19L391.37,325.25L391.64,323.3L392.44,314.49L392.7,312.54L393.26,309.61L395,302.76L397.44,294.94L398.55,291.02L399.98,285.16L401.23,279.29L401.72,276.36L402.24,272.44L404.54,250.93L405.25,245.06L405.71,242.13L406.3,239.2L407.24,235.28L408.08,232.35 M346.94,413.3L346.98,412.31L347.16,411L347.47,409.68L347.66,409.35L348.47,408.69L350.99,407.38L351.46,407.05L351.73,406.72L351.78,406.39L351.66,406.06L350.55,404.75L349.99,403.76L349.89,403.43L350.04,402.77L350.57,401.79L351.39,400.8L359.52,392.76L362.67,389.52L365.89,385.88L368.03,383.05L367.34,382.29L366.77,381.52L366.4,380.75L366.22,379.99L366.14,378.97L366.23,378.2L366.89,375.9L377.54,356.27L379.19,353.35L383.25,346.52L385.93,341.64L388.34,336.76L390.05,332.85L390.78,330.9L392.07,327L392.82,324.07L394.21,314.32L394.55,312.36L395.22,309.44L397.16,302.61L399.79,294.8L400.96,290.9L402.47,285.04L403.74,279.19L404.38,275.28L404.86,271.38L405.85,261.62L406.92,248.94L407.43,244.06L407.87,241.13L408.41,238.2L409.06,235.28L409.81,232.35 M347.01,413.3L347.05,412.31L347.23,411L347.55,409.68L347.73,409.35L348.49,408.69L351.48,407.05L351.81,406.72L351.94,406.39L351.9,406.06L351.73,405.73L350.44,404.09L350.08,403.43L350.08,403.1L350.19,402.77L350.71,401.79L351.54,400.8L355.12,397.17L359.79,392.61L363.04,389.3L366.43,385.58L368.68,382.68L367.97,381.92L367.39,381.15L367.02,380.39L366.84,379.62L366.76,378.6L366.83,377.84L367.18,376.31L367.52,375.29L372.16,366.67L378.07,355.97L384.46,345.26L387.76,339.42L389.23,336.5L391.07,332.61L393.38,326.77L394.03,324.82L394.51,322.87L396.21,314.11L397.15,310.22L398.01,307.3L399.6,302.43L402.43,294.65L403.69,290.75L405.29,284.91L406.65,279.07L407.59,273.23L408.63,263.5L409.83,246.95L410.2,243.06L411.08,237.22L412.11,232.35 M347.08,413.3L347.12,412.31L347.31,411L347.63,409.68L347.8,409.35L348.5,408.69L349.02,408.37L351.51,407.05L351.9,406.72L352.1,406.39L352.15,406.06L351.89,405.4L350.46,403.76L350.27,403.43L350.24,403.1L350.35,402.77L350.86,401.79L351.69,400.8L355.28,397.13L361.35,391.19L365.06,387.38L367.37,384.83L369.37,382.29L368.05,380.76L367.66,380L367.49,379.24L367.4,378.22L367.49,377.2L367.82,375.68L368.18,374.66L372.63,366.32L378.07,356.61L380.94,351.76L386.34,343.02L389.15,338.17L392.61,331.37L394.75,326.52L395.52,324.58L396.12,322.64L398.31,313.9L399.13,310.99L400.07,308.07L401.81,303.22L404.86,295.45L406.25,291.57L408.27,284.77L409.71,278.95L410.26,276.04L410.83,272.15L411.76,263.42L412.33,254.68L412.74,245.94L413.04,242.06L413.66,237.2L414.5,232.35 M347.18,413.3L347.36,411.33L347.66,410.01L347.91,409.35L348.51,408.69L348.99,408.37L351.54,407.05L352.02,406.72L352.34,406.39L352.52,406.06L352.55,405.73L352.47,405.4L352.27,405.07L350.82,403.76L350.56,403.43L350.49,403.1L350.58,402.77L351.08,401.79L351.91,400.8L355.51,397.07L362.26,390.48L367.04,385.66L368.63,383.9L370.39,381.7L369.41,380.69L368.85,379.93L368.62,379.43L368.42,378.41L368.37,377.15L368.52,375.88L368.79,374.62L369.2,373.6L373.33,365.8L378.88,356.13L382.43,350.33L388.7,340.66L391.03,336.79L394.26,330.99L396.79,326.15L398.12,323.25L401.76,312.61L403.19,308.75L405.98,301.98L408.96,295.21L410.47,291.34L411.46,288.44L412.64,284.57L413.44,281.67L414.13,278.77L414.68,275.87L415.25,272L416.05,263.3L416.2,260.39L416.35,254.59L416.41,245.89L416.5,242.99L416.94,237.19L417.55,232.35 M347.3,413.3L347.38,411.98L347.62,410.67L347.88,409.68L348.25,409.02L348.53,408.69L348.96,408.37L352.16,406.72L352.91,406.06L353.07,405.73L353.09,405.4L352.94,405.07L352.61,404.75L351.21,403.76L350.87,403.43L350.75,403.1L350.95,402.44L351.56,401.46L356.21,396.55L368.33,384.72L369.99,382.9L371.47,381.09L370.46,380.08L369.88,379.32L369.64,378.82L369.45,377.81L369.38,376.3L369.55,374.53L369.83,373.52L370.26,372.51L374.08,365.25L379.74,355.62L384.02,348.88L389.33,341.17L391.86,337.32L395.44,331.54L400.06,323.84L401.46,320.95L407.29,307.47L412.87,295.91L414.57,292.06L415.69,289.17L416.7,286.28L418.45,280.5L419.53,275.69L420.26,270.87L420.8,265.09L421.03,261.24L421.07,253.54L420.79,242.94L420.96,237.17L421.29,232.35 M347.4,413.3L347.48,411.98L347.73,410.67L348.13,409.35L348.54,408.69L349.49,408.04L351.61,407.05L352.83,406.39L353.26,406.06L353.53,405.73L353.64,405.4L353.53,405.07L353.18,404.75L351.55,403.76L351.14,403.43L350.98,403.1L351.16,402.44L351.78,401.46L356.92,396.01L369.11,384.29L370.86,382.41L372.43,380.54L371.16,379.28L370.78,378.78L370.55,378.28L370.26,376.27L370.32,374.26L370.5,373.25L370.98,372L373.67,366.72L375.28,363.8L378.73,358.04L382.95,351.33L385.55,347.49L392.44,337.89L401.52,324.46L402.71,322.54L404.79,318.7L411.58,305.27L416.69,295.68L418.96,290.88L420.16,288L421.63,284.16L422.65,281.28L423.54,278.41L424.51,274.57L425.11,271.69L426.09,264.97L426.4,262.09L426.52,260.17L426.66,253.46L426.23,242.9L426.14,232.35 M347.48,413.3L347.57,411.98L347.82,410.67L348.22,409.35L348.56,408.69L348.91,408.37L349.45,408.04L353.03,406.39L353.93,405.73L354.11,405.4L354.05,405.07L353.68,404.75L351.85,403.76L351.38,403.43L351.19,403.1L351.34,402.44L351.96,401.46L355.26,397.86L357.13,395.94L370.27,383.43L371.63,381.98L373.27,380.06L371.96,378.8L371.57,378.3L371.34,377.8L371.05,375.8L371.04,373.55L371.24,372.55L371.71,371.29L374.78,365.29L376.43,362.42L379.95,356.68L382.4,352.85L384.96,349.03L392.8,338.51L399.65,328.94L403.27,324.16L405.22,321.29L408.08,316.51L414.55,305.03L419.51,296.43L421.56,292.6L423.41,288.78L426.77,281.13L427.87,278.26L428.84,275.39L429.72,272.52L430.47,269.65L431.5,264.87L432.01,262L432.24,260.08L432.54,256.26L432.72,251.48L432.18,240L431.62,232.35" fill="none" stroke="#000" stroke-width="0.65" stroke-linejoin="round"/>
<path d="M346.62,413.3L346.66,412.31L346.82,411L347.1,409.68L347.33,409.35L347.79,409.02L348.43,408.69L350.54,407.71L351.05,407.38L351.36,407.05L351.36,406.72L351.06,406.39L349.38,405.4L348.93,405.07L348.73,404.75L348.8,404.09L349.03,403.43L349.9,401.79L350.72,400.8L352.85,398.82L357.57,394.15L360.3,391.27L361.5,389.83L362.57,388.4L363.82,386.6L364.98,384.8L364.35,384.03L363.87,383.25L363.52,382.47L363.37,381.96L363.26,381.18L363.27,380.67L363.44,379.89L363.73,379.12L364.43,377.57L366.4,374.46L369.61,368.57L372.15,363.63L376.54,354.75L379.6,348.83L380.56,346.85L382.31,342.9L383.11,340.93L383.83,338.96L385.01,335.01L385.46,333.03L385.71,331.06L385.96,328.1L386,326.12L385.95,325.14L385.46,321.19L384.93,316.25L384.76,313.29L384.82,311.32L385.08,308.36L385.73,303.42L386.27,300.46L388.53,290.59L389.54,286.64L390.38,283.68L394.83,268.87L397.79,259.99L399.7,254.07L403.55,241.23L406.37,232.35" fill="none" stroke="#ff00ff" stroke-width="1.7" stroke-linejoin="round"/>
<path d="M347.58,413.3L347.63,412.31L347.84,411L348.21,409.68L348.57,408.69L348.89,408.37L349.41,408.04L353.24,406.39L353.88,406.06L354.36,405.73L354.62,405.4L354.59,405.07L354.21,404.75L352.16,403.76L351.63,403.43L351.4,403.1L351.53,402.44L352.15,401.46L355.44,397.84L356.86,396.35L364.6,388.94L371.01,383.01L372.43,381.53L374.15,379.55L372.8,378.31L372.41,377.81L372.17,377.31L371.82,374.81L371.79,372.82L372,371.82L372.47,370.57L374.85,365.83L375.92,363.88L377.64,361.02L381.22,355.3L383.74,351.49L385.74,348.63L387.88,345.77L393.14,339.1L400.39,329.57L405.86,322.9L407.28,320.99L409.25,318.13L413.56,311.46L423.56,295.26L426.78,289.54L432.39,279.05L434.2,275.24L435.87,271.43L436.98,268.57L438.32,264.76L438.92,262.85L439.43,260.94L440.47,255.22L440.81,252.37L440.88,250.46L440.83,247.6L440.65,243.79L440.47,240.93L440.16,238.07L439.71,235.21L439.16,232.35" fill="none" stroke="#00ff00" stroke-width="1.7" stroke-linejoin="round"/>
<line x1="327.5" y1="413.3" x2="445.28" y2="232.35" stroke="#0000ff" stroke-width="1.8"/>
</g>
<rect x="56.5" y="5.95" width="211" height="181" fill="none" stroke="#333" stroke-width="1"/>
<path d="M69.16,186.95 v2.9 M82.34,186.95 v2.9 M95.53,186.95 v2.9 M121.9,186.95 v2.9 M135.08,186.95 v2.9 M148.27,186.95 v2.9 M174.64,186.95 v2.9 M187.82,186.95 v2.9 M201.01,186.95 v2.9 M227.38,186.95 v2.9 M240.56,186.95 v2.9 M253.75,186.95 v2.9 M56.5,186.95 v5.6 M108.71,186.95 v5.6 M161.45,186.95 v5.6 M214.19,186.95 v5.6 M266.93,186.95 v5.6" stroke="#333" stroke-width="1" fill="none"/>
<text x="56.5" y="206.75" text-anchor="middle" font-size="13.8">-80</text>
<text x="108.71" y="206.75" text-anchor="middle" font-size="13.8">-40</text>
<text x="161.45" y="206.75" text-anchor="middle" font-size="13.8">0</text>
<text x="214.19" y="206.75" text-anchor="middle" font-size="13.8">40</text>
<text x="266.93" y="206.75" text-anchor="middle" font-size="13.8">80</text>
<path d="M56.5,164.32 h-2.9 M56.5,119.07 h-2.9 M56.5,73.82 h-2.9 M56.5,28.57 h-2.9 M56.5,186.95 h-5.6 M56.5,141.7 h-5.6 M56.5,96.45 h-5.6 M56.5,51.2 h-5.6 M56.5,5.95 h-5.6" stroke="#333" stroke-width="1" fill="none"/>
<text x="47.2" y="191.55" text-anchor="end" font-size="13.8">0.00</text>
<text x="47.2" y="146.3" text-anchor="end" font-size="13.8">0.02</text>
<text x="47.2" y="101.05" text-anchor="end" font-size="13.8">0.04</text>
<text x="47.2" y="55.8" text-anchor="end" font-size="13.8">0.06</text>
<text x="47.2" y="10.55" text-anchor="end" font-size="13.8">0.08</text>
<rect x="56.5" y="232.35" width="211" height="180.95" fill="none" stroke="#333" stroke-width="1"/>
<path d="M66.52,413.3 v2.9 M77.07,413.3 v2.9 M87.62,413.3 v2.9 M98.16,413.3 v2.9 M119.26,413.3 v2.9 M129.81,413.3 v2.9 M140.36,413.3 v2.9 M150.9,413.3 v2.9 M172,413.3 v2.9 M182.55,413.3 v2.9 M193.1,413.3 v2.9 M203.64,413.3 v2.9 M224.74,413.3 v2.9 M235.29,413.3 v2.9 M245.84,413.3 v2.9 M256.39,413.3 v2.9 M56.5,413.3 v5.6 M108.71,413.3 v5.6 M161.45,413.3 v5.6 M214.19,413.3 v5.6 M266.93,413.3 v5.6" stroke="#333" stroke-width="1" fill="none"/>
<text x="56.5" y="433.2" text-anchor="middle" font-size="13.8">-80</text>
<text x="108.71" y="433.2" text-anchor="middle" font-size="13.8">-40</text>
<text x="161.45" y="433.2" text-anchor="middle" font-size="13.8">0</text>
<text x="214.19" y="433.2" text-anchor="middle" font-size="13.8">40</text>
<text x="266.93" y="433.2" text-anchor="middle" font-size="13.8">80</text>
<path d="M56.5,395.2 h-2.9 M56.5,359.01 h-2.9 M56.5,322.82 h-2.9 M56.5,286.63 h-2.9 M56.5,250.44 h-2.9 M56.5,413.3 h-5.6 M56.5,377.11 h-5.6 M56.5,340.92 h-5.6 M56.5,304.73 h-5.6 M56.5,268.54 h-5.6 M56.5,232.35 h-5.6" stroke="#333" stroke-width="1" fill="none"/>
<text x="47.5" y="417.9" text-anchor="end" font-size="13.8">0</text>
<text x="47.5" y="381.71" text-anchor="end" font-size="13.8">2</text>
<text x="47.5" y="345.52" text-anchor="end" font-size="13.8">4</text>
<text x="47.5" y="309.33" text-anchor="end" font-size="13.8">6</text>
<text x="47.5" y="273.14" text-anchor="end" font-size="13.8">8</text>
<text x="47.5" y="236.95" text-anchor="end" font-size="13.8">10</text>
<rect x="327.5" y="5.95" width="211" height="181" fill="none" stroke="#333" stroke-width="1"/>
<path d="M338.05,186.95 v2.9 M348.6,186.95 v2.9 M359.15,186.95 v2.9 M380.25,186.95 v2.9 M390.8,186.95 v2.9 M401.35,186.95 v2.9 M422.45,186.95 v2.9 M433,186.95 v2.9 M443.55,186.95 v2.9 M464.65,186.95 v2.9 M475.2,186.95 v2.9 M485.75,186.95 v2.9 M506.85,186.95 v2.9 M517.4,186.95 v2.9 M527.95,186.95 v2.9 M327.5,186.95 v5.6 M369.7,186.95 v5.6 M411.9,186.95 v5.6 M454.1,186.95 v5.6 M496.3,186.95 v5.6 M538.5,186.95 v5.6" stroke="#333" stroke-width="1" fill="none"/>
<text x="327.5" y="206.75" text-anchor="middle" font-size="13.8">0</text>
<text x="369.7" y="206.75" text-anchor="middle" font-size="13.8">4</text>
<text x="411.9" y="206.75" text-anchor="middle" font-size="13.8">8</text>
<text x="454.1" y="206.75" text-anchor="middle" font-size="13.8">12</text>
<text x="496.3" y="206.75" text-anchor="middle" font-size="13.8">16</text>
<text x="538.5" y="206.75" text-anchor="middle" font-size="13.8">20</text>
<path d="M327.5,174.88 h-2.9 M327.5,162.82 h-2.9 M327.5,150.75 h-2.9 M327.5,138.68 h-2.9 M327.5,114.55 h-2.9 M327.5,102.48 h-2.9 M327.5,90.42 h-2.9 M327.5,78.35 h-2.9 M327.5,54.22 h-2.9 M327.5,42.15 h-2.9 M327.5,30.08 h-2.9 M327.5,18.02 h-2.9 M327.5,186.95 h-5.6 M327.5,126.62 h-5.6 M327.5,66.28 h-5.6 M327.5,5.95 h-5.6" stroke="#333" stroke-width="1" fill="none"/>
<text x="318.2" y="191.55" text-anchor="end" font-size="13.8">0.0</text>
<text x="318.2" y="131.22" text-anchor="end" font-size="13.8">0.2</text>
<text x="318.2" y="70.88" text-anchor="end" font-size="13.8">0.4</text>
<text x="318.2" y="10.55" text-anchor="end" font-size="13.8">0.6</text>
<rect x="327.5" y="232.35" width="211" height="180.95" fill="none" stroke="#333" stroke-width="1"/>
<path d="M336.96,413.3 v2.9 M346.56,413.3 v2.9 M356.17,413.3 v2.9 M365.78,413.3 v2.9 M384.99,413.3 v2.9 M394.6,413.3 v2.9 M404.2,413.3 v2.9 M413.81,413.3 v2.9 M433.03,413.3 v2.9 M442.63,413.3 v2.9 M452.24,413.3 v2.9 M461.85,413.3 v2.9 M481.06,413.3 v2.9 M490.67,413.3 v2.9 M500.27,413.3 v2.9 M509.88,413.3 v2.9 M529.09,413.3 v2.9 M538.7,413.3 v2.9 M327.35,413.3 v5.6 M375.38,413.3 v5.6 M423.42,413.3 v5.6 M471.45,413.3 v5.6 M519.49,413.3 v5.6" stroke="#333" stroke-width="1" fill="none"/>
<text x="327.35" y="433.2" text-anchor="middle" font-size="13.8">0</text>
<text x="375.38" y="433.2" text-anchor="middle" font-size="13.8">5</text>
<text x="423.42" y="433.2" text-anchor="middle" font-size="13.8">10</text>
<text x="471.45" y="433.2" text-anchor="middle" font-size="13.8">15</text>
<text x="519.49" y="433.2" text-anchor="middle" font-size="13.8">20</text>
<path d="M327.5,404.25 h-2.9 M327.5,395.2 h-2.9 M327.5,386.16 h-2.9 M327.5,377.11 h-2.9 M327.5,359.01 h-2.9 M327.5,349.97 h-2.9 M327.5,340.92 h-2.9 M327.5,331.87 h-2.9 M327.5,313.78 h-2.9 M327.5,304.73 h-2.9 M327.5,295.68 h-2.9 M327.5,286.63 h-2.9 M327.5,268.54 h-2.9 M327.5,259.49 h-2.9 M327.5,250.44 h-2.9 M327.5,241.4 h-2.9 M327.5,413.3 h-5.6 M327.5,368.06 h-5.6 M327.5,322.82 h-5.6 M327.5,277.59 h-5.6 M327.5,232.35 h-5.6" stroke="#333" stroke-width="1" fill="none"/>
<text x="318.2" y="417.9" text-anchor="end" font-size="13.8">0</text>
<text x="318.2" y="372.66" text-anchor="end" font-size="13.8">5</text>
<text x="318.2" y="327.43" text-anchor="end" font-size="13.8">10</text>
<text x="318.2" y="282.19" text-anchor="end" font-size="13.8">15</text>
<text x="318.2" y="236.95" text-anchor="end" font-size="13.8">20</text>
<rect x="598.85" y="5.95" width="211" height="181" fill="none" stroke="#333" stroke-width="1"/>
<path d="M616.43,186.95 v2.9 M651.6,186.95 v2.9 M686.77,186.95 v2.9 M721.93,186.95 v2.9 M757.1,186.95 v2.9 M792.27,186.95 v2.9 M598.85,186.95 v5.6 M634.02,186.95 v5.6 M669.18,186.95 v5.6 M704.35,186.95 v5.6 M739.52,186.95 v5.6 M774.68,186.95 v5.6 M809.85,186.95 v5.6" stroke="#333" stroke-width="1" fill="none"/>
<text x="598.85" y="206.75" text-anchor="middle" font-size="13.8">-6</text>
<text x="634.02" y="206.75" text-anchor="middle" font-size="13.8">-4</text>
<text x="669.18" y="206.75" text-anchor="middle" font-size="13.8">-2</text>
<text x="704.35" y="206.75" text-anchor="middle" font-size="13.8">0</text>
<text x="739.52" y="206.75" text-anchor="middle" font-size="13.8">2</text>
<text x="774.68" y="206.75" text-anchor="middle" font-size="13.8">4</text>
<text x="809.85" y="206.75" text-anchor="middle" font-size="13.8">6</text>
<path d="M598.85,166.84 h-2.9 M598.85,126.62 h-2.9 M598.85,86.39 h-2.9 M598.85,46.17 h-2.9 M598.85,5.95 h-2.9 M598.85,186.95 h-5.6 M598.85,146.73 h-5.6 M598.85,106.51 h-5.6 M598.85,66.28 h-5.6 M598.85,26.06 h-5.6" stroke="#333" stroke-width="1" fill="none"/>
<text x="589.55" y="191.55" text-anchor="end" font-size="13.8">0.0</text>
<text x="589.55" y="151.33" text-anchor="end" font-size="13.8">0.1</text>
<text x="589.55" y="111.11" text-anchor="end" font-size="13.8">0.2</text>
<text x="589.55" y="70.88" text-anchor="end" font-size="13.8">0.3</text>
<text x="589.55" y="30.66" text-anchor="end" font-size="13.8">0.4</text>
<rect x="598.85" y="232.35" width="211" height="180.95" fill="none" stroke="#333" stroke-width="1"/>
<path d="M609.4,413.3 v2.9 M619.95,413.3 v2.9 M630.5,413.3 v2.9 M651.6,413.3 v2.9 M662.15,413.3 v2.9 M672.7,413.3 v2.9 M693.8,413.3 v2.9 M704.35,413.3 v2.9 M714.9,413.3 v2.9 M736,413.3 v2.9 M746.55,413.3 v2.9 M757.1,413.3 v2.9 M778.2,413.3 v2.9 M788.75,413.3 v2.9 M799.3,413.3 v2.9 M598.85,413.3 v5.6 M641.05,413.3 v5.6 M683.25,413.3 v5.6 M725.45,413.3 v5.6 M767.65,413.3 v5.6 M809.85,413.3 v5.6" stroke="#333" stroke-width="1" fill="none"/>
<text x="598.85" y="433.2" text-anchor="middle" font-size="13.8">0</text>
<text x="641.05" y="433.2" text-anchor="middle" font-size="13.8">4</text>
<text x="683.25" y="433.2" text-anchor="middle" font-size="13.8">8</text>
<text x="725.45" y="433.2" text-anchor="middle" font-size="13.8">12</text>
<text x="767.65" y="433.2" text-anchor="middle" font-size="13.8">16</text>
<text x="809.85" y="433.2" text-anchor="middle" font-size="13.8">20</text>
<path d="M598.85,398.22 h-2.9 M598.85,383.14 h-2.9 M598.85,368.06 h-2.9 M598.85,352.98 h-2.9 M598.85,322.82 h-2.9 M598.85,307.75 h-2.9 M598.85,292.67 h-2.9 M598.85,277.59 h-2.9 M598.85,247.43 h-2.9 M598.85,413.3 h-5.6 M598.85,337.9 h-5.6 M598.85,262.51 h-5.6" stroke="#333" stroke-width="1" fill="none"/>
<text x="589.55" y="417.9" text-anchor="end" font-size="13.8">0.0</text>
<text x="589.55" y="342.5" text-anchor="end" font-size="13.8">0.1</text>
<text x="589.55" y="267.11" text-anchor="end" font-size="13.8">0.2</text>
<text transform="translate(11.6,98.3) rotate(-90)" text-anchor="middle" font-size="15.8">&#961;(x)</text>
<text x="162" y="226.1" text-anchor="middle" font-size="15.8">x</text>
<text transform="translate(27.3,325.1) rotate(-90)" text-anchor="middle" font-size="15.8">t</text>
<text x="161.5" y="451.6" text-anchor="middle" font-size="15.8">x(t)</text>
<text transform="translate(291,99) rotate(-90)" text-anchor="middle" font-size="15.8">P<tspan font-size="9.6" dy="5.9">n</tspan><tspan dy="-5.9">&#8203;</tspan>(t)</text>
<text x="435.4" y="226.1" text-anchor="middle" font-size="15.8">t</text>
<text transform="translate(296,325.4) rotate(-90)" text-anchor="middle" font-size="15.8">t</text>
<text x="436.4" y="451.9" text-anchor="middle" font-size="15.8">x(t)</text>
<text transform="translate(559.4,98.8) rotate(-90)" text-anchor="middle" font-size="15.8">&#961;<tspan font-size="9.6" dy="5.9">0</tspan><tspan dy="-5.9">&#8203;</tspan>(x)</text>
<text x="704.5" y="226.1" text-anchor="middle" font-size="15.8">x</text>
<text transform="translate(560.9,329.6) rotate(-90)" text-anchor="middle" font-size="15.8">P<tspan font-size="9.6" dy="3.2">s,n</tspan><tspan dy="-6.2">(t)</tspan></text>
<text x="706" y="451.7" text-anchor="middle" font-size="15.8">t</text>
<text x="62" y="25.2" font-size="15.8">(a)</text>
<text x="61.3" y="248.1" font-size="15.8">(b)</text>
<text x="332.1" y="25.6" font-size="15.8">(c)</text>
<text x="332.1" y="251" font-size="15.8">(d)</text>
<text x="604.7" y="25.6" font-size="15.8">(e)</text>
<text x="603.1" y="251" font-size="15.8">(f)</text>
</g>
</svg>
</body></html>
